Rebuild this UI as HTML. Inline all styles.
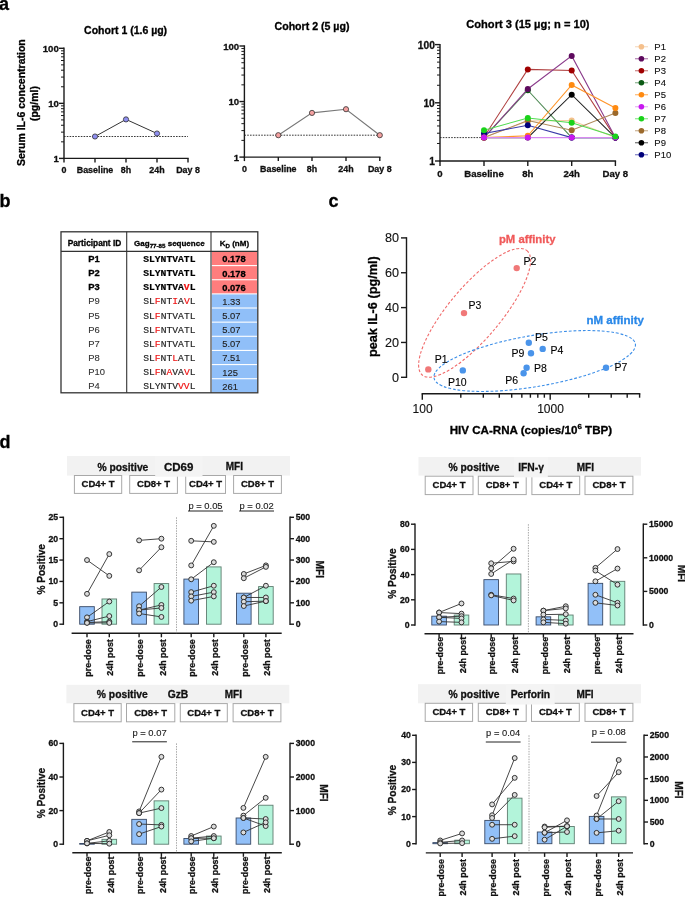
<!DOCTYPE html>
<html><head><meta charset="utf-8"><style>
html,body{margin:0;padding:0;background:#fff;width:685px;height:897px;overflow:hidden}
svg{display:block;will-change:transform}
text{font-family:"Liberation Sans", sans-serif}
</style></head><body>
<svg width="685" height="897" viewBox="0 0 685 897">
<text x="-1.00" y="9.60" font-size="18.00" font-weight="bold" text-anchor="start" fill="#000" stroke="#000" stroke-width="0.30">a</text>
<text x="-0.50" y="207.00" font-size="18.00" font-weight="bold" text-anchor="start" fill="#000" stroke="#000" stroke-width="0.30">b</text>
<text x="328.50" y="207.00" font-size="18.00" font-weight="bold" text-anchor="start" fill="#000" stroke="#000" stroke-width="0.30">c</text>
<text x="-0.50" y="447.50" font-size="18.00" font-weight="bold" text-anchor="start" fill="#000" stroke="#000" stroke-width="0.30">d</text>
<text x="125.60" y="33.81" font-size="10.50" font-weight="bold" text-anchor="middle" fill="#000" stroke="#000" stroke-width="0.30">Cohort 1 (1.6 µg)</text>
<line x1="64.00" y1="47.60" x2="64.00" y2="159.10" stroke="#1a1a1a" stroke-width="1.40"/>
<line x1="59.00" y1="158.40" x2="64.00" y2="158.40" stroke="#1a1a1a" stroke-width="1.40"/>
<text x="58.80" y="162.20" font-size="9.60" font-weight="bold" text-anchor="end" fill="#111" stroke="#111" stroke-width="0.30">1</text>
<line x1="59.00" y1="103.35" x2="64.00" y2="103.35" stroke="#1a1a1a" stroke-width="1.40"/>
<text x="58.80" y="107.15" font-size="9.60" font-weight="bold" text-anchor="end" fill="#111" stroke="#111" stroke-width="0.30">10</text>
<line x1="59.00" y1="48.30" x2="64.00" y2="48.30" stroke="#1a1a1a" stroke-width="1.40"/>
<text x="58.80" y="52.10" font-size="9.60" font-weight="bold" text-anchor="end" fill="#111" stroke="#111" stroke-width="0.30">100</text>
<line x1="61.00" y1="141.83" x2="64.00" y2="141.83" stroke="#1a1a1a" stroke-width="1.00"/>
<line x1="61.00" y1="132.13" x2="64.00" y2="132.13" stroke="#1a1a1a" stroke-width="1.00"/>
<line x1="61.00" y1="125.26" x2="64.00" y2="125.26" stroke="#1a1a1a" stroke-width="1.00"/>
<line x1="61.00" y1="119.92" x2="64.00" y2="119.92" stroke="#1a1a1a" stroke-width="1.00"/>
<line x1="61.00" y1="115.56" x2="64.00" y2="115.56" stroke="#1a1a1a" stroke-width="1.00"/>
<line x1="61.00" y1="111.88" x2="64.00" y2="111.88" stroke="#1a1a1a" stroke-width="1.00"/>
<line x1="61.00" y1="108.68" x2="64.00" y2="108.68" stroke="#1a1a1a" stroke-width="1.00"/>
<line x1="61.00" y1="105.87" x2="64.00" y2="105.87" stroke="#1a1a1a" stroke-width="1.00"/>
<line x1="61.00" y1="86.78" x2="64.00" y2="86.78" stroke="#1a1a1a" stroke-width="1.00"/>
<line x1="61.00" y1="77.08" x2="64.00" y2="77.08" stroke="#1a1a1a" stroke-width="1.00"/>
<line x1="61.00" y1="70.21" x2="64.00" y2="70.21" stroke="#1a1a1a" stroke-width="1.00"/>
<line x1="61.00" y1="64.87" x2="64.00" y2="64.87" stroke="#1a1a1a" stroke-width="1.00"/>
<line x1="61.00" y1="60.51" x2="64.00" y2="60.51" stroke="#1a1a1a" stroke-width="1.00"/>
<line x1="61.00" y1="56.83" x2="64.00" y2="56.83" stroke="#1a1a1a" stroke-width="1.00"/>
<line x1="61.00" y1="53.63" x2="64.00" y2="53.63" stroke="#1a1a1a" stroke-width="1.00"/>
<line x1="61.00" y1="50.82" x2="64.00" y2="50.82" stroke="#1a1a1a" stroke-width="1.00"/>
<line x1="63.30" y1="158.40" x2="188.70" y2="158.40" stroke="#1a1a1a" stroke-width="1.40"/>
<line x1="64.00" y1="158.40" x2="64.00" y2="162.40" stroke="#1a1a1a" stroke-width="1.40"/>
<text x="64.00" y="172.96" font-size="8.90" font-weight="bold" text-anchor="middle" fill="#111" stroke="#111" stroke-width="0.30">0</text>
<line x1="95.00" y1="158.40" x2="95.00" y2="162.40" stroke="#1a1a1a" stroke-width="1.40"/>
<text x="95.00" y="172.96" font-size="8.90" font-weight="bold" text-anchor="middle" fill="#111" stroke="#111" stroke-width="0.30">Baseline</text>
<line x1="126.00" y1="158.40" x2="126.00" y2="162.40" stroke="#1a1a1a" stroke-width="1.40"/>
<text x="126.00" y="172.96" font-size="8.90" font-weight="bold" text-anchor="middle" fill="#111" stroke="#111" stroke-width="0.30">8h</text>
<line x1="157.00" y1="158.40" x2="157.00" y2="162.40" stroke="#1a1a1a" stroke-width="1.40"/>
<text x="157.00" y="172.96" font-size="8.90" font-weight="bold" text-anchor="middle" fill="#111" stroke="#111" stroke-width="0.30">24h</text>
<line x1="188.00" y1="158.40" x2="188.00" y2="162.40" stroke="#1a1a1a" stroke-width="1.40"/>
<text x="188.00" y="172.96" font-size="8.90" font-weight="bold" text-anchor="middle" fill="#111" stroke="#111" stroke-width="0.30">Day 8</text>
<line x1="64.00" y1="136.50" x2="188.00" y2="136.50" stroke="#222" stroke-width="0.90" stroke-dasharray="1.6 1.2"/>
<polyline points="95.0,136.5 126.0,119.4 157.0,133.5" fill="none" stroke="#333" stroke-width="1"/>
<circle cx="95.00" cy="136.50" r="2.60" fill="#8f8ff0" stroke="#333" stroke-width="0.80"/>
<circle cx="126.00" cy="119.40" r="2.60" fill="#8f8ff0" stroke="#333" stroke-width="0.80"/>
<circle cx="157.00" cy="133.50" r="2.60" fill="#8f8ff0" stroke="#333" stroke-width="0.80"/>
<text x="312.00" y="30.35" font-size="10.60" font-weight="bold" text-anchor="middle" fill="#000" stroke="#000" stroke-width="0.30">Cohort 2 (5 µg)</text>
<line x1="244.40" y1="45.30" x2="244.40" y2="157.80" stroke="#1a1a1a" stroke-width="1.40"/>
<line x1="239.40" y1="157.10" x2="244.40" y2="157.10" stroke="#1a1a1a" stroke-width="1.40"/>
<text x="239.20" y="160.90" font-size="9.60" font-weight="bold" text-anchor="end" fill="#111" stroke="#111" stroke-width="0.30">1</text>
<line x1="239.40" y1="101.55" x2="244.40" y2="101.55" stroke="#1a1a1a" stroke-width="1.40"/>
<text x="239.20" y="105.35" font-size="9.60" font-weight="bold" text-anchor="end" fill="#111" stroke="#111" stroke-width="0.30">10</text>
<line x1="239.40" y1="46.00" x2="244.40" y2="46.00" stroke="#1a1a1a" stroke-width="1.40"/>
<text x="239.20" y="49.80" font-size="9.60" font-weight="bold" text-anchor="end" fill="#111" stroke="#111" stroke-width="0.30">100</text>
<line x1="241.40" y1="140.38" x2="244.40" y2="140.38" stroke="#1a1a1a" stroke-width="1.00"/>
<line x1="241.40" y1="130.60" x2="244.40" y2="130.60" stroke="#1a1a1a" stroke-width="1.00"/>
<line x1="241.40" y1="123.66" x2="244.40" y2="123.66" stroke="#1a1a1a" stroke-width="1.00"/>
<line x1="241.40" y1="118.27" x2="244.40" y2="118.27" stroke="#1a1a1a" stroke-width="1.00"/>
<line x1="241.40" y1="113.87" x2="244.40" y2="113.87" stroke="#1a1a1a" stroke-width="1.00"/>
<line x1="241.40" y1="110.15" x2="244.40" y2="110.15" stroke="#1a1a1a" stroke-width="1.00"/>
<line x1="241.40" y1="106.93" x2="244.40" y2="106.93" stroke="#1a1a1a" stroke-width="1.00"/>
<line x1="241.40" y1="104.09" x2="244.40" y2="104.09" stroke="#1a1a1a" stroke-width="1.00"/>
<line x1="241.40" y1="84.83" x2="244.40" y2="84.83" stroke="#1a1a1a" stroke-width="1.00"/>
<line x1="241.40" y1="75.05" x2="244.40" y2="75.05" stroke="#1a1a1a" stroke-width="1.00"/>
<line x1="241.40" y1="68.11" x2="244.40" y2="68.11" stroke="#1a1a1a" stroke-width="1.00"/>
<line x1="241.40" y1="62.72" x2="244.40" y2="62.72" stroke="#1a1a1a" stroke-width="1.00"/>
<line x1="241.40" y1="58.32" x2="244.40" y2="58.32" stroke="#1a1a1a" stroke-width="1.00"/>
<line x1="241.40" y1="54.60" x2="244.40" y2="54.60" stroke="#1a1a1a" stroke-width="1.00"/>
<line x1="241.40" y1="51.38" x2="244.40" y2="51.38" stroke="#1a1a1a" stroke-width="1.00"/>
<line x1="241.40" y1="48.54" x2="244.40" y2="48.54" stroke="#1a1a1a" stroke-width="1.00"/>
<line x1="243.70" y1="157.10" x2="380.50" y2="157.10" stroke="#1a1a1a" stroke-width="1.40"/>
<line x1="244.40" y1="157.10" x2="244.40" y2="161.10" stroke="#1a1a1a" stroke-width="1.40"/>
<text x="244.40" y="171.66" font-size="8.90" font-weight="bold" text-anchor="middle" fill="#111" stroke="#111" stroke-width="0.30">0</text>
<line x1="278.30" y1="157.10" x2="278.30" y2="161.10" stroke="#1a1a1a" stroke-width="1.40"/>
<text x="278.30" y="171.66" font-size="8.90" font-weight="bold" text-anchor="middle" fill="#111" stroke="#111" stroke-width="0.30">Baseline</text>
<line x1="312.00" y1="157.10" x2="312.00" y2="161.10" stroke="#1a1a1a" stroke-width="1.40"/>
<text x="312.00" y="171.66" font-size="8.90" font-weight="bold" text-anchor="middle" fill="#111" stroke="#111" stroke-width="0.30">8h</text>
<line x1="346.00" y1="157.10" x2="346.00" y2="161.10" stroke="#1a1a1a" stroke-width="1.40"/>
<text x="346.00" y="171.66" font-size="8.90" font-weight="bold" text-anchor="middle" fill="#111" stroke="#111" stroke-width="0.30">24h</text>
<line x1="379.80" y1="157.10" x2="379.80" y2="161.10" stroke="#1a1a1a" stroke-width="1.40"/>
<text x="379.80" y="171.66" font-size="8.90" font-weight="bold" text-anchor="middle" fill="#111" stroke="#111" stroke-width="0.30">Day 8</text>
<line x1="244.40" y1="135.20" x2="379.80" y2="135.20" stroke="#222" stroke-width="0.90" stroke-dasharray="1.6 1.2"/>
<polyline points="278.3,135.2 312.0,112.9 346.0,109.2 379.8,135.2" fill="none" stroke="#777" stroke-width="1.1"/>
<circle cx="278.30" cy="135.20" r="2.60" fill="#f4a0a0" stroke="#333" stroke-width="0.80"/>
<circle cx="312.00" cy="112.90" r="2.60" fill="#f4a0a0" stroke="#333" stroke-width="0.80"/>
<circle cx="346.00" cy="109.20" r="2.60" fill="#f4a0a0" stroke="#333" stroke-width="0.80"/>
<circle cx="379.80" cy="135.20" r="2.60" fill="#f4a0a0" stroke="#333" stroke-width="0.80"/>
<text x="527.90" y="27.52" font-size="11.10" font-weight="bold" text-anchor="middle" fill="#000" stroke="#000" stroke-width="0.30">Cohort 3 (15 µg; n = 10)</text>
<line x1="440.00" y1="43.90" x2="440.00" y2="161.70" stroke="#1a1a1a" stroke-width="1.40"/>
<line x1="435.00" y1="161.00" x2="440.00" y2="161.00" stroke="#1a1a1a" stroke-width="1.40"/>
<text x="434.80" y="165.01" font-size="10.20" font-weight="bold" text-anchor="end" fill="#111" stroke="#111" stroke-width="0.30">1</text>
<line x1="435.00" y1="102.80" x2="440.00" y2="102.80" stroke="#1a1a1a" stroke-width="1.40"/>
<text x="434.80" y="106.81" font-size="10.20" font-weight="bold" text-anchor="end" fill="#111" stroke="#111" stroke-width="0.30">10</text>
<line x1="435.00" y1="44.60" x2="440.00" y2="44.60" stroke="#1a1a1a" stroke-width="1.40"/>
<text x="434.80" y="48.61" font-size="10.20" font-weight="bold" text-anchor="end" fill="#111" stroke="#111" stroke-width="0.30">100</text>
<line x1="437.00" y1="143.48" x2="440.00" y2="143.48" stroke="#1a1a1a" stroke-width="1.00"/>
<line x1="437.00" y1="133.23" x2="440.00" y2="133.23" stroke="#1a1a1a" stroke-width="1.00"/>
<line x1="437.00" y1="125.96" x2="440.00" y2="125.96" stroke="#1a1a1a" stroke-width="1.00"/>
<line x1="437.00" y1="120.32" x2="440.00" y2="120.32" stroke="#1a1a1a" stroke-width="1.00"/>
<line x1="437.00" y1="115.71" x2="440.00" y2="115.71" stroke="#1a1a1a" stroke-width="1.00"/>
<line x1="437.00" y1="111.82" x2="440.00" y2="111.82" stroke="#1a1a1a" stroke-width="1.00"/>
<line x1="437.00" y1="108.44" x2="440.00" y2="108.44" stroke="#1a1a1a" stroke-width="1.00"/>
<line x1="437.00" y1="105.46" x2="440.00" y2="105.46" stroke="#1a1a1a" stroke-width="1.00"/>
<line x1="437.00" y1="85.28" x2="440.00" y2="85.28" stroke="#1a1a1a" stroke-width="1.00"/>
<line x1="437.00" y1="75.03" x2="440.00" y2="75.03" stroke="#1a1a1a" stroke-width="1.00"/>
<line x1="437.00" y1="67.76" x2="440.00" y2="67.76" stroke="#1a1a1a" stroke-width="1.00"/>
<line x1="437.00" y1="62.12" x2="440.00" y2="62.12" stroke="#1a1a1a" stroke-width="1.00"/>
<line x1="437.00" y1="57.51" x2="440.00" y2="57.51" stroke="#1a1a1a" stroke-width="1.00"/>
<line x1="437.00" y1="53.62" x2="440.00" y2="53.62" stroke="#1a1a1a" stroke-width="1.00"/>
<line x1="437.00" y1="50.24" x2="440.00" y2="50.24" stroke="#1a1a1a" stroke-width="1.00"/>
<line x1="437.00" y1="47.26" x2="440.00" y2="47.26" stroke="#1a1a1a" stroke-width="1.00"/>
<line x1="439.30" y1="161.00" x2="616.10" y2="161.00" stroke="#1a1a1a" stroke-width="1.40"/>
<line x1="440.00" y1="161.00" x2="440.00" y2="166.00" stroke="#1a1a1a" stroke-width="1.40"/>
<text x="440.00" y="176.50" font-size="9.60" font-weight="bold" text-anchor="middle" fill="#111" stroke="#111" stroke-width="0.30">0</text>
<line x1="484.00" y1="161.00" x2="484.00" y2="166.00" stroke="#1a1a1a" stroke-width="1.40"/>
<text x="484.00" y="176.50" font-size="9.60" font-weight="bold" text-anchor="middle" fill="#111" stroke="#111" stroke-width="0.30">Baseline</text>
<line x1="527.80" y1="161.00" x2="527.80" y2="166.00" stroke="#1a1a1a" stroke-width="1.40"/>
<text x="527.80" y="176.50" font-size="9.60" font-weight="bold" text-anchor="middle" fill="#111" stroke="#111" stroke-width="0.30">8h</text>
<line x1="571.70" y1="161.00" x2="571.70" y2="166.00" stroke="#1a1a1a" stroke-width="1.40"/>
<text x="571.70" y="176.50" font-size="9.60" font-weight="bold" text-anchor="middle" fill="#111" stroke="#111" stroke-width="0.30">24h</text>
<line x1="615.40" y1="161.00" x2="615.40" y2="166.00" stroke="#1a1a1a" stroke-width="1.40"/>
<text x="615.40" y="176.50" font-size="9.60" font-weight="bold" text-anchor="middle" fill="#111" stroke="#111" stroke-width="0.30">Day 8</text>
<line x1="440.00" y1="137.60" x2="484.00" y2="137.60" stroke="#222" stroke-width="0.90" stroke-dasharray="1.6 1.2"/>
<polyline points="484.0,137.6 527.8,121.0 571.7,120.5 615.4,137.6" fill="none" stroke="#f2c9a0" stroke-width="1.05"/>
<circle cx="484.00" cy="137.60" r="3.00" fill="#f5c08c" stroke="none" stroke-width="1.00"/>
<circle cx="527.80" cy="121.00" r="3.00" fill="#f5c08c" stroke="none" stroke-width="1.00"/>
<circle cx="571.70" cy="120.50" r="3.00" fill="#f5c08c" stroke="none" stroke-width="1.00"/>
<circle cx="615.40" cy="137.60" r="3.00" fill="#f5c08c" stroke="none" stroke-width="1.00"/>
<polyline points="484.0,137.0 527.8,69.4 571.7,70.4 615.4,137.6" fill="none" stroke="#b04040" stroke-width="1.05"/>
<circle cx="484.00" cy="137.00" r="3.00" fill="#a00000" stroke="none" stroke-width="1.00"/>
<circle cx="527.80" cy="69.40" r="3.00" fill="#a00000" stroke="none" stroke-width="1.00"/>
<circle cx="571.70" cy="70.40" r="3.00" fill="#a00000" stroke="none" stroke-width="1.00"/>
<circle cx="615.40" cy="137.60" r="3.00" fill="#a00000" stroke="none" stroke-width="1.00"/>
<polyline points="484.0,137.6 527.8,90.2 571.7,137.6 615.4,137.6" fill="none" stroke="#4f8a55" stroke-width="1.05"/>
<circle cx="484.00" cy="137.60" r="3.00" fill="#0b5a14" stroke="none" stroke-width="1.00"/>
<circle cx="527.80" cy="90.20" r="3.00" fill="#0b5a14" stroke="none" stroke-width="1.00"/>
<circle cx="571.70" cy="137.60" r="3.00" fill="#0b5a14" stroke="none" stroke-width="1.00"/>
<circle cx="615.40" cy="137.60" r="3.00" fill="#0b5a14" stroke="none" stroke-width="1.00"/>
<polyline points="484.0,137.6 527.8,89.0 571.7,55.9 615.4,137.6" fill="none" stroke="#8a3a8a" stroke-width="1.05"/>
<circle cx="484.00" cy="137.60" r="3.00" fill="#5e0a5e" stroke="none" stroke-width="1.00"/>
<circle cx="527.80" cy="89.00" r="3.00" fill="#5e0a5e" stroke="none" stroke-width="1.00"/>
<circle cx="571.70" cy="55.90" r="3.00" fill="#5e0a5e" stroke="none" stroke-width="1.00"/>
<circle cx="615.40" cy="137.60" r="3.00" fill="#5e0a5e" stroke="none" stroke-width="1.00"/>
<polyline points="484.0,137.6 527.8,120.6 571.7,130.2 615.4,113.1" fill="none" stroke="#b08a5a" stroke-width="1.05"/>
<circle cx="484.00" cy="137.60" r="3.00" fill="#9c6a2c" stroke="none" stroke-width="1.00"/>
<circle cx="527.80" cy="120.60" r="3.00" fill="#9c6a2c" stroke="none" stroke-width="1.00"/>
<circle cx="571.70" cy="130.20" r="3.00" fill="#9c6a2c" stroke="none" stroke-width="1.00"/>
<circle cx="615.40" cy="113.10" r="3.00" fill="#9c6a2c" stroke="none" stroke-width="1.00"/>
<polyline points="484.0,137.6 527.8,137.6 571.7,94.7 615.4,137.6" fill="none" stroke="#222222" stroke-width="1.05"/>
<circle cx="484.00" cy="137.60" r="3.00" fill="#000000" stroke="none" stroke-width="1.00"/>
<circle cx="527.80" cy="137.60" r="3.00" fill="#000000" stroke="none" stroke-width="1.00"/>
<circle cx="571.70" cy="94.70" r="3.00" fill="#000000" stroke="none" stroke-width="1.00"/>
<circle cx="615.40" cy="137.60" r="3.00" fill="#000000" stroke="none" stroke-width="1.00"/>
<polyline points="484.0,133.4 527.8,125.3 571.7,137.6 615.4,137.6" fill="none" stroke="#3a3aa8" stroke-width="1.05"/>
<circle cx="484.00" cy="133.40" r="3.00" fill="#00007a" stroke="none" stroke-width="1.00"/>
<circle cx="527.80" cy="125.30" r="3.00" fill="#00007a" stroke="none" stroke-width="1.00"/>
<circle cx="571.70" cy="137.60" r="3.00" fill="#00007a" stroke="none" stroke-width="1.00"/>
<circle cx="615.40" cy="137.60" r="3.00" fill="#00007a" stroke="none" stroke-width="1.00"/>
<polyline points="484.0,137.6 527.8,135.8 571.7,85.0 615.4,108.0" fill="none" stroke="#ff9428" stroke-width="1.05"/>
<circle cx="484.00" cy="137.60" r="3.00" fill="#ff8a10" stroke="none" stroke-width="1.00"/>
<circle cx="527.80" cy="135.80" r="3.00" fill="#ff8a10" stroke="none" stroke-width="1.00"/>
<circle cx="571.70" cy="85.00" r="3.00" fill="#ff8a10" stroke="none" stroke-width="1.00"/>
<circle cx="615.40" cy="108.00" r="3.00" fill="#ff8a10" stroke="none" stroke-width="1.00"/>
<polyline points="484.0,137.6 527.8,137.6 571.7,137.6 615.4,137.6" fill="none" stroke="#d88af0" stroke-width="1.05"/>
<circle cx="484.00" cy="137.60" r="3.00" fill="#c818f0" stroke="none" stroke-width="1.00"/>
<circle cx="527.80" cy="137.60" r="3.00" fill="#c818f0" stroke="none" stroke-width="1.00"/>
<circle cx="571.70" cy="137.60" r="3.00" fill="#c818f0" stroke="none" stroke-width="1.00"/>
<circle cx="615.40" cy="137.60" r="3.00" fill="#c818f0" stroke="none" stroke-width="1.00"/>
<polyline points="484.0,130.2 527.8,118.0 571.7,122.8 615.4,136.6" fill="none" stroke="#50dc50" stroke-width="1.05"/>
<circle cx="484.00" cy="130.20" r="3.00" fill="#1ad21a" stroke="none" stroke-width="1.00"/>
<circle cx="527.80" cy="118.00" r="3.00" fill="#1ad21a" stroke="none" stroke-width="1.00"/>
<circle cx="571.70" cy="122.80" r="3.00" fill="#1ad21a" stroke="none" stroke-width="1.00"/>
<circle cx="615.40" cy="136.60" r="3.00" fill="#1ad21a" stroke="none" stroke-width="1.00"/>
<line x1="635.00" y1="46.70" x2="648.00" y2="46.70" stroke="#f2c9a0" stroke-width="1.30" stroke-opacity="0.6"/>
<circle cx="641.40" cy="46.70" r="2.80" fill="#f5c08c" stroke="none" stroke-width="1.00"/>
<text x="654.30" y="49.97" font-size="9.50" font-weight="normal" text-anchor="start" fill="#111" stroke="#111" stroke-width="0.12">P1</text>
<line x1="635.00" y1="58.70" x2="648.00" y2="58.70" stroke="#8a3a8a" stroke-width="1.30" stroke-opacity="0.6"/>
<circle cx="641.40" cy="58.70" r="2.80" fill="#5e0a5e" stroke="none" stroke-width="1.00"/>
<text x="654.30" y="61.97" font-size="9.50" font-weight="normal" text-anchor="start" fill="#111" stroke="#111" stroke-width="0.12">P2</text>
<line x1="635.00" y1="70.70" x2="648.00" y2="70.70" stroke="#b04040" stroke-width="1.30" stroke-opacity="0.6"/>
<circle cx="641.40" cy="70.70" r="2.80" fill="#a00000" stroke="none" stroke-width="1.00"/>
<text x="654.30" y="73.97" font-size="9.50" font-weight="normal" text-anchor="start" fill="#111" stroke="#111" stroke-width="0.12">P3</text>
<line x1="635.00" y1="82.70" x2="648.00" y2="82.70" stroke="#4f8a55" stroke-width="1.30" stroke-opacity="0.6"/>
<circle cx="641.40" cy="82.70" r="2.80" fill="#0b5a14" stroke="none" stroke-width="1.00"/>
<text x="654.30" y="85.97" font-size="9.50" font-weight="normal" text-anchor="start" fill="#111" stroke="#111" stroke-width="0.12">P4</text>
<line x1="635.00" y1="94.70" x2="648.00" y2="94.70" stroke="#ff9428" stroke-width="1.30" stroke-opacity="0.6"/>
<circle cx="641.40" cy="94.70" r="2.80" fill="#ff8a10" stroke="none" stroke-width="1.00"/>
<text x="654.30" y="97.97" font-size="9.50" font-weight="normal" text-anchor="start" fill="#111" stroke="#111" stroke-width="0.12">P5</text>
<line x1="635.00" y1="106.70" x2="648.00" y2="106.70" stroke="#d88af0" stroke-width="1.30" stroke-opacity="0.6"/>
<circle cx="641.40" cy="106.70" r="2.80" fill="#c818f0" stroke="none" stroke-width="1.00"/>
<text x="654.30" y="109.97" font-size="9.50" font-weight="normal" text-anchor="start" fill="#111" stroke="#111" stroke-width="0.12">P6</text>
<line x1="635.00" y1="118.70" x2="648.00" y2="118.70" stroke="#50dc50" stroke-width="1.30" stroke-opacity="0.6"/>
<circle cx="641.40" cy="118.70" r="2.80" fill="#1ad21a" stroke="none" stroke-width="1.00"/>
<text x="654.30" y="121.97" font-size="9.50" font-weight="normal" text-anchor="start" fill="#111" stroke="#111" stroke-width="0.12">P7</text>
<line x1="635.00" y1="130.70" x2="648.00" y2="130.70" stroke="#b08a5a" stroke-width="1.30" stroke-opacity="0.6"/>
<circle cx="641.40" cy="130.70" r="2.80" fill="#9c6a2c" stroke="none" stroke-width="1.00"/>
<text x="654.30" y="133.97" font-size="9.50" font-weight="normal" text-anchor="start" fill="#111" stroke="#111" stroke-width="0.12">P8</text>
<line x1="635.00" y1="142.70" x2="648.00" y2="142.70" stroke="#222222" stroke-width="1.30" stroke-opacity="0.6"/>
<circle cx="641.40" cy="142.70" r="2.80" fill="#000000" stroke="none" stroke-width="1.00"/>
<text x="654.30" y="145.97" font-size="9.50" font-weight="normal" text-anchor="start" fill="#111" stroke="#111" stroke-width="0.12">P9</text>
<line x1="635.00" y1="154.70" x2="648.00" y2="154.70" stroke="#3a3aa8" stroke-width="1.30" stroke-opacity="0.6"/>
<circle cx="641.40" cy="154.70" r="2.80" fill="#00007a" stroke="none" stroke-width="1.00"/>
<text x="654.30" y="157.97" font-size="9.50" font-weight="normal" text-anchor="start" fill="#111" stroke="#111" stroke-width="0.12">P10</text>
<text x="21.50" y="102.60" font-size="10.50" font-weight="bold" text-anchor="middle" fill="#000" stroke="#000" stroke-width="0.30" transform="rotate(-90 21.50 102.60)" dominant-baseline="central">Serum IL-6 concentration</text>
<text x="34.00" y="103.60" font-size="10.50" font-weight="bold" text-anchor="middle" fill="#000" stroke="#000" stroke-width="0.30" transform="rotate(-90 34.00 103.60)" dominant-baseline="central">(pg/ml)</text>
<rect x="211.80" y="252.00" width="45.20" height="13.04" fill="#ff7d7d" stroke="none" stroke-width="1.00"/>
<text x="88.30" y="262.00" font-size="9.40" font-weight="bold" text-anchor="start" fill="#000" stroke="#000" stroke-width="0.30">P1</text>
<text x="169.35" y="262.04" font-size="9.7" font-weight="bold" text-anchor="middle" fill="#000" stroke="#000" stroke-width="0.2" style='font-family:"Liberation Mono", monospace'><tspan>SLYNTVATL</tspan></text>
<text x="222.30" y="262.40" font-size="9.40" font-weight="bold" text-anchor="start" fill="#000" stroke="#000" stroke-width="0.30">0.178</text>
<rect x="211.80" y="266.14" width="45.20" height="13.04" fill="#ff7d7d" stroke="none" stroke-width="1.00"/>
<text x="88.30" y="276.14" font-size="9.40" font-weight="bold" text-anchor="start" fill="#000" stroke="#000" stroke-width="0.30">P2</text>
<text x="169.35" y="276.18" font-size="9.7" font-weight="bold" text-anchor="middle" fill="#000" stroke="#000" stroke-width="0.2" style='font-family:"Liberation Mono", monospace'><tspan>SLYNTVATL</tspan></text>
<text x="222.30" y="276.54" font-size="9.40" font-weight="bold" text-anchor="start" fill="#000" stroke="#000" stroke-width="0.30">0.178</text>
<rect x="211.80" y="280.28" width="45.20" height="13.04" fill="#ff7d7d" stroke="none" stroke-width="1.00"/>
<text x="88.30" y="290.28" font-size="9.40" font-weight="bold" text-anchor="start" fill="#000" stroke="#000" stroke-width="0.30">P3</text>
<text x="169.35" y="290.32" font-size="9.7" font-weight="bold" text-anchor="middle" fill="#000" stroke="#000" stroke-width="0.2" style='font-family:"Liberation Mono", monospace'><tspan>SLYNTVA</tspan><tspan fill="#ee1111" stroke="#ee1111">V</tspan><tspan>L</tspan></text>
<text x="222.30" y="290.68" font-size="9.40" font-weight="bold" text-anchor="start" fill="#000" stroke="#000" stroke-width="0.30">0.076</text>
<rect x="211.80" y="294.42" width="45.20" height="13.04" fill="#90bff8" stroke="none" stroke-width="1.00"/>
<text x="88.30" y="304.42" font-size="9.40" font-weight="normal" text-anchor="start" fill="#333" stroke="#333" stroke-width="0.12">P9</text>
<text x="169.35" y="304.46" font-size="9.7" font-weight="normal" text-anchor="middle" fill="#222" stroke="#222" stroke-width="0.15" style='font-family:"Liberation Mono", monospace'><tspan>SL</tspan><tspan fill="#ee1111" stroke="#ee1111">F</tspan><tspan>NT</tspan><tspan fill="#ee1111" stroke="#ee1111">I</tspan><tspan>A</tspan><tspan fill="#ee1111" stroke="#ee1111">V</tspan><tspan>L</tspan></text>
<text x="222.30" y="304.82" font-size="9.40" font-weight="normal" text-anchor="start" fill="#222" stroke="#222" stroke-width="0.12">1.33</text>
<rect x="211.80" y="308.56" width="45.20" height="13.04" fill="#90bff8" stroke="none" stroke-width="1.00"/>
<text x="88.30" y="318.56" font-size="9.40" font-weight="normal" text-anchor="start" fill="#333" stroke="#333" stroke-width="0.12">P5</text>
<text x="169.35" y="318.60" font-size="9.7" font-weight="normal" text-anchor="middle" fill="#222" stroke="#222" stroke-width="0.15" style='font-family:"Liberation Mono", monospace'><tspan>SL</tspan><tspan fill="#ee1111" stroke="#ee1111">F</tspan><tspan>NTVATL</tspan></text>
<text x="222.30" y="318.96" font-size="9.40" font-weight="normal" text-anchor="start" fill="#222" stroke="#222" stroke-width="0.12">5.07</text>
<rect x="211.80" y="322.70" width="45.20" height="13.04" fill="#90bff8" stroke="none" stroke-width="1.00"/>
<text x="88.30" y="332.70" font-size="9.40" font-weight="normal" text-anchor="start" fill="#333" stroke="#333" stroke-width="0.12">P6</text>
<text x="169.35" y="332.74" font-size="9.7" font-weight="normal" text-anchor="middle" fill="#222" stroke="#222" stroke-width="0.15" style='font-family:"Liberation Mono", monospace'><tspan>SL</tspan><tspan fill="#ee1111" stroke="#ee1111">F</tspan><tspan>NTVATL</tspan></text>
<text x="222.30" y="333.10" font-size="9.40" font-weight="normal" text-anchor="start" fill="#222" stroke="#222" stroke-width="0.12">5.07</text>
<rect x="211.80" y="336.84" width="45.20" height="13.04" fill="#90bff8" stroke="none" stroke-width="1.00"/>
<text x="88.30" y="346.84" font-size="9.40" font-weight="normal" text-anchor="start" fill="#333" stroke="#333" stroke-width="0.12">P7</text>
<text x="169.35" y="346.88" font-size="9.7" font-weight="normal" text-anchor="middle" fill="#222" stroke="#222" stroke-width="0.15" style='font-family:"Liberation Mono", monospace'><tspan>SL</tspan><tspan fill="#ee1111" stroke="#ee1111">F</tspan><tspan>NTVATL</tspan></text>
<text x="222.30" y="347.24" font-size="9.40" font-weight="normal" text-anchor="start" fill="#222" stroke="#222" stroke-width="0.12">5.07</text>
<rect x="211.80" y="350.98" width="45.20" height="13.04" fill="#90bff8" stroke="none" stroke-width="1.00"/>
<text x="88.30" y="360.98" font-size="9.40" font-weight="normal" text-anchor="start" fill="#333" stroke="#333" stroke-width="0.12">P8</text>
<text x="169.35" y="361.02" font-size="9.7" font-weight="normal" text-anchor="middle" fill="#222" stroke="#222" stroke-width="0.15" style='font-family:"Liberation Mono", monospace'><tspan>SL</tspan><tspan fill="#ee1111" stroke="#ee1111">F</tspan><tspan>NT</tspan><tspan fill="#ee1111" stroke="#ee1111">L</tspan><tspan>ATL</tspan></text>
<text x="222.30" y="361.38" font-size="9.40" font-weight="normal" text-anchor="start" fill="#222" stroke="#222" stroke-width="0.12">7.51</text>
<rect x="211.80" y="365.12" width="45.20" height="13.04" fill="#90bff8" stroke="none" stroke-width="1.00"/>
<text x="88.30" y="375.12" font-size="9.40" font-weight="normal" text-anchor="start" fill="#333" stroke="#333" stroke-width="0.12">P10</text>
<text x="169.35" y="375.16" font-size="9.7" font-weight="normal" text-anchor="middle" fill="#222" stroke="#222" stroke-width="0.15" style='font-family:"Liberation Mono", monospace'><tspan>SL</tspan><tspan fill="#ee1111" stroke="#ee1111">F</tspan><tspan>N</tspan><tspan fill="#ee1111" stroke="#ee1111">A</tspan><tspan>VA</tspan><tspan fill="#ee1111" stroke="#ee1111">V</tspan><tspan>L</tspan></text>
<text x="222.30" y="375.52" font-size="9.40" font-weight="normal" text-anchor="start" fill="#222" stroke="#222" stroke-width="0.12">125</text>
<rect x="211.80" y="379.26" width="45.20" height="13.04" fill="#90bff8" stroke="none" stroke-width="1.00"/>
<text x="88.30" y="389.26" font-size="9.40" font-weight="normal" text-anchor="start" fill="#333" stroke="#333" stroke-width="0.12">P4</text>
<text x="169.35" y="389.30" font-size="9.7" font-weight="normal" text-anchor="middle" fill="#222" stroke="#222" stroke-width="0.15" style='font-family:"Liberation Mono", monospace'><tspan>SLYNTV</tspan><tspan fill="#ee1111" stroke="#ee1111">VV</tspan><tspan>L</tspan></text>
<text x="222.30" y="389.66" font-size="9.40" font-weight="normal" text-anchor="start" fill="#222" stroke="#222" stroke-width="0.12">261</text>
<rect x="61.00" y="231.80" width="196.80" height="161.00" fill="none" stroke="#333" stroke-width="1.3"/>
<line x1="61.00" y1="251.40" x2="257.80" y2="251.40" stroke="#333" stroke-width="1.30"/>
<line x1="126.70" y1="231.80" x2="126.70" y2="392.80" stroke="#333" stroke-width="1.10"/>
<line x1="211.00" y1="231.80" x2="211.00" y2="392.80" stroke="#333" stroke-width="1.10"/>
<text x="94.45" y="245.66" font-size="8.30" font-weight="bold" text-anchor="middle" fill="#000" stroke="#000" stroke-width="0.30">Participant ID</text>
<text x="169.35" y="245.55" font-size="8" font-weight="bold" text-anchor="middle" stroke="#000" stroke-width="0.3">Gag<tspan font-size="6.2" dy="2">77-85</tspan><tspan dy="-2"> sequence</tspan></text>
<text x="234.40" y="245.55" font-size="8" font-weight="bold" text-anchor="middle" stroke="#000" stroke-width="0.3">K<tspan font-size="6.2" dy="2">D</tspan><tspan dy="-2"> (nM)</tspan></text>
<line x1="406.50" y1="237.20" x2="406.50" y2="378.00" stroke="#1a1a1a" stroke-width="1.40"/>
<line x1="401.00" y1="377.30" x2="406.50" y2="377.30" stroke="#1a1a1a" stroke-width="1.40"/>
<text x="399.00" y="381.63" font-size="12.60" font-weight="normal" text-anchor="end" fill="#111" stroke="#111" stroke-width="0.12">0</text>
<line x1="401.00" y1="342.45" x2="406.50" y2="342.45" stroke="#1a1a1a" stroke-width="1.40"/>
<text x="399.00" y="346.78" font-size="12.60" font-weight="normal" text-anchor="end" fill="#111" stroke="#111" stroke-width="0.12">20</text>
<line x1="401.00" y1="307.60" x2="406.50" y2="307.60" stroke="#1a1a1a" stroke-width="1.40"/>
<text x="399.00" y="311.93" font-size="12.60" font-weight="normal" text-anchor="end" fill="#111" stroke="#111" stroke-width="0.12">40</text>
<line x1="401.00" y1="272.75" x2="406.50" y2="272.75" stroke="#1a1a1a" stroke-width="1.40"/>
<text x="399.00" y="277.08" font-size="12.60" font-weight="normal" text-anchor="end" fill="#111" stroke="#111" stroke-width="0.12">60</text>
<line x1="401.00" y1="237.90" x2="406.50" y2="237.90" stroke="#1a1a1a" stroke-width="1.40"/>
<text x="399.00" y="242.23" font-size="12.60" font-weight="normal" text-anchor="end" fill="#111" stroke="#111" stroke-width="0.12">80</text>
<text x="373.40" y="306.70" font-size="12.70" font-weight="bold" text-anchor="middle" fill="#000" stroke="#000" stroke-width="0.30" transform="rotate(-90 373.40 306.70)" dominant-baseline="central">peak IL-6 (pg/ml)</text>
<line x1="421.60" y1="393.70" x2="640.30" y2="393.70" stroke="#1a1a1a" stroke-width="1.40"/>
<line x1="422.30" y1="393.70" x2="422.30" y2="399.70" stroke="#1a1a1a" stroke-width="1.40"/>
<text x="422.60" y="412.93" font-size="12.00" font-weight="normal" text-anchor="middle" fill="#111" stroke="#111" stroke-width="0.12">100</text>
<line x1="550.20" y1="393.70" x2="550.20" y2="399.70" stroke="#1a1a1a" stroke-width="1.40"/>
<text x="550.50" y="412.93" font-size="12.00" font-weight="normal" text-anchor="middle" fill="#111" stroke="#111" stroke-width="0.12">1000</text>
<line x1="460.80" y1="393.70" x2="460.80" y2="397.70" stroke="#1a1a1a" stroke-width="1.40"/>
<line x1="483.32" y1="393.70" x2="483.32" y2="397.70" stroke="#1a1a1a" stroke-width="1.40"/>
<line x1="499.30" y1="393.70" x2="499.30" y2="397.70" stroke="#1a1a1a" stroke-width="1.40"/>
<line x1="511.70" y1="393.70" x2="511.70" y2="397.70" stroke="#1a1a1a" stroke-width="1.40"/>
<line x1="521.83" y1="393.70" x2="521.83" y2="397.70" stroke="#1a1a1a" stroke-width="1.40"/>
<line x1="530.39" y1="393.70" x2="530.39" y2="397.70" stroke="#1a1a1a" stroke-width="1.40"/>
<line x1="537.81" y1="393.70" x2="537.81" y2="397.70" stroke="#1a1a1a" stroke-width="1.40"/>
<line x1="544.35" y1="393.70" x2="544.35" y2="397.70" stroke="#1a1a1a" stroke-width="1.40"/>
<line x1="588.70" y1="393.70" x2="588.70" y2="397.70" stroke="#1a1a1a" stroke-width="1.40"/>
<line x1="611.22" y1="393.70" x2="611.22" y2="397.70" stroke="#1a1a1a" stroke-width="1.40"/>
<line x1="627.20" y1="393.70" x2="627.20" y2="397.70" stroke="#1a1a1a" stroke-width="1.40"/>
<line x1="639.60" y1="393.70" x2="639.60" y2="397.70" stroke="#1a1a1a" stroke-width="1.40"/>
<text x="530.90" y="433.99" font-size="11.60" font-weight="bold" text-anchor="middle" fill="#000" stroke="#000" stroke-width="0.30">HIV CA-RNA (copies/10<tspan font-size="8" dy="-4.5">6</tspan><tspan dy="4.5"> TBP)</tspan></text>
<ellipse cx="474.6" cy="312.8" rx="81.3" ry="25.9" transform="rotate(-49.9 474.6 312.8)" fill="none" stroke="#f06a6a" stroke-width="1.1" stroke-dasharray="2.8 1.9"/>
<ellipse cx="534.7" cy="361" rx="102.1" ry="25.6" transform="rotate(-9.6 534.7 361)" fill="none" stroke="#3d8fe8" stroke-width="1.1" stroke-dasharray="2.8 1.9"/>
<circle cx="428.30" cy="369.40" r="3.20" fill="#f07878" stroke="none" stroke-width="1.00"/>
<circle cx="464.00" cy="313.10" r="3.20" fill="#f07878" stroke="none" stroke-width="1.00"/>
<circle cx="516.70" cy="268.10" r="3.20" fill="#f07878" stroke="none" stroke-width="1.00"/>
<circle cx="462.80" cy="370.40" r="3.20" fill="#4a94ea" stroke="none" stroke-width="1.00"/>
<circle cx="528.80" cy="342.70" r="3.20" fill="#4a94ea" stroke="none" stroke-width="1.00"/>
<circle cx="542.70" cy="348.90" r="3.20" fill="#4a94ea" stroke="none" stroke-width="1.00"/>
<circle cx="531.00" cy="353.30" r="3.20" fill="#4a94ea" stroke="none" stroke-width="1.00"/>
<circle cx="526.60" cy="367.70" r="3.20" fill="#4a94ea" stroke="none" stroke-width="1.00"/>
<circle cx="523.60" cy="373.20" r="3.20" fill="#4a94ea" stroke="none" stroke-width="1.00"/>
<circle cx="606.00" cy="367.70" r="3.20" fill="#4a94ea" stroke="none" stroke-width="1.00"/>
<text x="434.70" y="363.11" font-size="10.50" font-weight="normal" text-anchor="start" fill="#000" stroke="#000" stroke-width="0.12">P1</text>
<text x="447.90" y="386.21" font-size="10.50" font-weight="normal" text-anchor="start" fill="#000" stroke="#000" stroke-width="0.12">P10</text>
<text x="468.50" y="309.01" font-size="10.50" font-weight="normal" text-anchor="start" fill="#000" stroke="#000" stroke-width="0.12">P3</text>
<text x="523.40" y="265.21" font-size="10.50" font-weight="normal" text-anchor="start" fill="#000" stroke="#000" stroke-width="0.12">P2</text>
<text x="535.00" y="340.81" font-size="10.50" font-weight="normal" text-anchor="start" fill="#000" stroke="#000" stroke-width="0.12">P5</text>
<text x="550.60" y="353.71" font-size="10.50" font-weight="normal" text-anchor="start" fill="#000" stroke="#000" stroke-width="0.12">P4</text>
<text x="524.30" y="357.41" font-size="10.50" font-weight="normal" text-anchor="end" fill="#000" stroke="#000" stroke-width="0.12">P9</text>
<text x="534.00" y="372.31" font-size="10.50" font-weight="normal" text-anchor="start" fill="#000" stroke="#000" stroke-width="0.12">P8</text>
<text x="518.20" y="383.51" font-size="10.50" font-weight="normal" text-anchor="end" fill="#000" stroke="#000" stroke-width="0.12">P6</text>
<text x="614.40" y="371.11" font-size="10.50" font-weight="normal" text-anchor="start" fill="#000" stroke="#000" stroke-width="0.12">P7</text>
<text x="527.20" y="243.19" font-size="11.30" font-weight="bold" text-anchor="middle" fill="#f05a5a" stroke="#f05a5a" stroke-width="0.30">pM affinity</text>
<text x="615.20" y="323.76" font-size="11.50" font-weight="bold" text-anchor="middle" fill="#2a88e8" stroke="#2a88e8" stroke-width="0.30">nM affinity</text>
<rect x="67.00" y="456.00" width="223.00" height="19.60" fill="#f2f2f2" stroke="none" stroke-width="1.00"/>
<rect x="74.40" y="475.50" width="47.30" height="17.90" fill="#fff" stroke="#a8a8a8" stroke-width="1.00"/>
<text x="98.05" y="487.32" font-size="9.50" font-weight="bold" text-anchor="middle" fill="#111" stroke="#111" stroke-width="0.30">CD4+ T</text>
<rect x="129.70" y="475.50" width="47.70" height="17.90" fill="#fff" stroke="#a8a8a8" stroke-width="1.00"/>
<text x="153.55" y="487.32" font-size="9.50" font-weight="bold" text-anchor="middle" fill="#111" stroke="#111" stroke-width="0.30">CD8+ T</text>
<rect x="185.70" y="475.50" width="39.80" height="17.90" fill="#fff" stroke="#a8a8a8" stroke-width="1.00"/>
<text x="205.60" y="487.32" font-size="9.50" font-weight="bold" text-anchor="middle" fill="#111" stroke="#111" stroke-width="0.30">CD4+ T</text>
<rect x="233.60" y="475.50" width="47.80" height="17.90" fill="#fff" stroke="#a8a8a8" stroke-width="1.00"/>
<text x="257.50" y="487.32" font-size="9.50" font-weight="bold" text-anchor="middle" fill="#111" stroke="#111" stroke-width="0.30">CD8+ T</text>
<rect x="155.20" y="456.00" width="47.30" height="20.70" fill="#f4f4f4" stroke="none" stroke-width="1.00"/>
<text x="122.90" y="470.74" font-size="10.30" font-weight="bold" text-anchor="middle" fill="#111" stroke="#111" stroke-width="0.30">% positive</text>
<text x="178.60" y="471.16" font-size="11.50" font-weight="bold" text-anchor="middle" fill="#111" stroke="#111" stroke-width="0.30">CD69</text>
<text x="234.30" y="470.04" font-size="10.00" font-weight="bold" text-anchor="middle" fill="#111" stroke="#111" stroke-width="0.30">MFI</text>
<line x1="63.40" y1="516.60" x2="63.40" y2="624.90" stroke="#1a1a1a" stroke-width="1.40"/>
<line x1="59.40" y1="624.20" x2="63.40" y2="624.20" stroke="#1a1a1a" stroke-width="1.40"/>
<text x="58.10" y="627.19" font-size="8.70" font-weight="bold" text-anchor="end" fill="#111" stroke="#111" stroke-width="0.30">0</text>
<line x1="59.40" y1="602.82" x2="63.40" y2="602.82" stroke="#1a1a1a" stroke-width="1.40"/>
<text x="58.10" y="605.81" font-size="8.70" font-weight="bold" text-anchor="end" fill="#111" stroke="#111" stroke-width="0.30">5</text>
<line x1="59.40" y1="581.44" x2="63.40" y2="581.44" stroke="#1a1a1a" stroke-width="1.40"/>
<text x="58.10" y="584.43" font-size="8.70" font-weight="bold" text-anchor="end" fill="#111" stroke="#111" stroke-width="0.30">10</text>
<line x1="59.40" y1="560.06" x2="63.40" y2="560.06" stroke="#1a1a1a" stroke-width="1.40"/>
<text x="58.10" y="563.05" font-size="8.70" font-weight="bold" text-anchor="end" fill="#111" stroke="#111" stroke-width="0.30">15</text>
<line x1="59.40" y1="538.68" x2="63.40" y2="538.68" stroke="#1a1a1a" stroke-width="1.40"/>
<text x="58.10" y="541.67" font-size="8.70" font-weight="bold" text-anchor="end" fill="#111" stroke="#111" stroke-width="0.30">20</text>
<line x1="59.40" y1="517.30" x2="63.40" y2="517.30" stroke="#1a1a1a" stroke-width="1.40"/>
<text x="58.10" y="520.29" font-size="8.70" font-weight="bold" text-anchor="end" fill="#111" stroke="#111" stroke-width="0.30">25</text>
<line x1="290.00" y1="516.60" x2="290.00" y2="624.90" stroke="#1a1a1a" stroke-width="1.40"/>
<line x1="290.00" y1="624.20" x2="294.00" y2="624.20" stroke="#1a1a1a" stroke-width="1.40"/>
<text x="295.70" y="627.19" font-size="8.70" font-weight="bold" text-anchor="start" fill="#111" stroke="#111" stroke-width="0.30">0</text>
<line x1="290.00" y1="602.82" x2="294.00" y2="602.82" stroke="#1a1a1a" stroke-width="1.40"/>
<text x="295.70" y="605.81" font-size="8.70" font-weight="bold" text-anchor="start" fill="#111" stroke="#111" stroke-width="0.30">100</text>
<line x1="290.00" y1="581.44" x2="294.00" y2="581.44" stroke="#1a1a1a" stroke-width="1.40"/>
<text x="295.70" y="584.43" font-size="8.70" font-weight="bold" text-anchor="start" fill="#111" stroke="#111" stroke-width="0.30">200</text>
<line x1="290.00" y1="560.06" x2="294.00" y2="560.06" stroke="#1a1a1a" stroke-width="1.40"/>
<text x="295.70" y="563.05" font-size="8.70" font-weight="bold" text-anchor="start" fill="#111" stroke="#111" stroke-width="0.30">300</text>
<line x1="290.00" y1="538.68" x2="294.00" y2="538.68" stroke="#1a1a1a" stroke-width="1.40"/>
<text x="295.70" y="541.67" font-size="8.70" font-weight="bold" text-anchor="start" fill="#111" stroke="#111" stroke-width="0.30">400</text>
<line x1="290.00" y1="517.30" x2="294.00" y2="517.30" stroke="#1a1a1a" stroke-width="1.40"/>
<text x="295.70" y="520.29" font-size="8.70" font-weight="bold" text-anchor="start" fill="#111" stroke="#111" stroke-width="0.30">500</text>
<line x1="71.60" y1="633.30" x2="281.70" y2="633.30" stroke="#1a1a1a" stroke-width="1.40"/>
<line x1="176.50" y1="517.30" x2="176.50" y2="633.30" stroke="#8c8c8c" stroke-width="0.75" stroke-dasharray="1.5 1.1"/>
<line x1="87.00" y1="633.30" x2="87.00" y2="637.30" stroke="#1a1a1a" stroke-width="1.40"/>
<text x="91.20" y="639.20" font-size="8.90" font-weight="bold" text-anchor="end" fill="#111" stroke="#111" stroke-width="0.30" transform="rotate(-90 91.20 639.20)">pre-dose</text>
<line x1="109.30" y1="633.30" x2="109.30" y2="637.30" stroke="#1a1a1a" stroke-width="1.40"/>
<text x="113.50" y="639.20" font-size="8.90" font-weight="bold" text-anchor="end" fill="#111" stroke="#111" stroke-width="0.30" transform="rotate(-90 113.50 639.20)">24h post</text>
<line x1="139.10" y1="633.30" x2="139.10" y2="637.30" stroke="#1a1a1a" stroke-width="1.40"/>
<text x="143.30" y="639.20" font-size="8.90" font-weight="bold" text-anchor="end" fill="#111" stroke="#111" stroke-width="0.30" transform="rotate(-90 143.30 639.20)">pre-dose</text>
<line x1="161.40" y1="633.30" x2="161.40" y2="637.30" stroke="#1a1a1a" stroke-width="1.40"/>
<text x="165.60" y="639.20" font-size="8.90" font-weight="bold" text-anchor="end" fill="#111" stroke="#111" stroke-width="0.30" transform="rotate(-90 165.60 639.20)">24h post</text>
<line x1="191.20" y1="633.30" x2="191.20" y2="637.30" stroke="#1a1a1a" stroke-width="1.40"/>
<text x="195.40" y="639.20" font-size="8.90" font-weight="bold" text-anchor="end" fill="#111" stroke="#111" stroke-width="0.30" transform="rotate(-90 195.40 639.20)">pre-dose</text>
<line x1="213.80" y1="633.30" x2="213.80" y2="637.30" stroke="#1a1a1a" stroke-width="1.40"/>
<text x="218.00" y="639.20" font-size="8.90" font-weight="bold" text-anchor="end" fill="#111" stroke="#111" stroke-width="0.30" transform="rotate(-90 218.00 639.20)">24h post</text>
<line x1="243.80" y1="633.30" x2="243.80" y2="637.30" stroke="#1a1a1a" stroke-width="1.40"/>
<text x="248.00" y="639.20" font-size="8.90" font-weight="bold" text-anchor="end" fill="#111" stroke="#111" stroke-width="0.30" transform="rotate(-90 248.00 639.20)">pre-dose</text>
<line x1="265.90" y1="633.30" x2="265.90" y2="637.30" stroke="#1a1a1a" stroke-width="1.40"/>
<text x="270.10" y="639.20" font-size="8.90" font-weight="bold" text-anchor="end" fill="#111" stroke="#111" stroke-width="0.30" transform="rotate(-90 270.10 639.20)">24h post</text>
<rect x="79.70" y="606.67" width="14.60" height="17.53" fill="#92c0f8" stroke="#3a4a66" stroke-width="0.90"/>
<rect x="102.00" y="598.97" width="14.60" height="25.23" fill="#b3f4da" stroke="#5f7d70" stroke-width="0.90"/>
<line x1="87.00" y1="560.06" x2="109.30" y2="575.88" stroke="#333" stroke-width="0.90"/>
<line x1="87.00" y1="593.84" x2="109.30" y2="554.07" stroke="#333" stroke-width="0.90"/>
<line x1="87.00" y1="617.36" x2="109.30" y2="601.54" stroke="#333" stroke-width="0.90"/>
<line x1="87.00" y1="621.63" x2="109.30" y2="616.08" stroke="#333" stroke-width="0.90"/>
<line x1="87.00" y1="622.49" x2="109.30" y2="621.63" stroke="#333" stroke-width="0.90"/>
<line x1="87.00" y1="622.92" x2="109.30" y2="622.92" stroke="#333" stroke-width="0.90"/>
<circle cx="87.00" cy="560.06" r="2.45" fill="#dcdcdc" stroke="#2a2a2a" stroke-width="0.95"/>
<circle cx="87.00" cy="593.84" r="2.45" fill="#dcdcdc" stroke="#2a2a2a" stroke-width="0.95"/>
<circle cx="87.00" cy="617.36" r="2.45" fill="#dcdcdc" stroke="#2a2a2a" stroke-width="0.95"/>
<circle cx="87.00" cy="621.63" r="2.45" fill="#dcdcdc" stroke="#2a2a2a" stroke-width="0.95"/>
<circle cx="87.00" cy="622.49" r="2.45" fill="#dcdcdc" stroke="#2a2a2a" stroke-width="0.95"/>
<circle cx="87.00" cy="622.92" r="2.45" fill="#dcdcdc" stroke="#2a2a2a" stroke-width="0.95"/>
<circle cx="109.30" cy="575.88" r="2.45" fill="#dcdcdc" stroke="#2a2a2a" stroke-width="0.95"/>
<circle cx="109.30" cy="554.07" r="2.45" fill="#dcdcdc" stroke="#2a2a2a" stroke-width="0.95"/>
<circle cx="109.30" cy="601.54" r="2.45" fill="#dcdcdc" stroke="#2a2a2a" stroke-width="0.95"/>
<circle cx="109.30" cy="616.08" r="2.45" fill="#dcdcdc" stroke="#2a2a2a" stroke-width="0.95"/>
<circle cx="109.30" cy="621.63" r="2.45" fill="#dcdcdc" stroke="#2a2a2a" stroke-width="0.95"/>
<circle cx="109.30" cy="622.92" r="2.45" fill="#dcdcdc" stroke="#2a2a2a" stroke-width="0.95"/>
<rect x="131.80" y="592.13" width="14.60" height="32.07" fill="#92c0f8" stroke="#3a4a66" stroke-width="0.90"/>
<rect x="154.10" y="583.58" width="14.60" height="40.62" fill="#b3f4da" stroke="#5f7d70" stroke-width="0.90"/>
<line x1="139.10" y1="540.39" x2="161.40" y2="538.68" stroke="#333" stroke-width="0.90"/>
<line x1="139.10" y1="570.32" x2="161.40" y2="547.23" stroke="#333" stroke-width="0.90"/>
<line x1="139.10" y1="606.24" x2="161.40" y2="587.00" stroke="#333" stroke-width="0.90"/>
<line x1="139.10" y1="610.09" x2="161.40" y2="604.96" stroke="#333" stroke-width="0.90"/>
<line x1="139.10" y1="610.09" x2="161.40" y2="607.95" stroke="#333" stroke-width="0.90"/>
<line x1="139.10" y1="613.51" x2="161.40" y2="616.93" stroke="#333" stroke-width="0.90"/>
<circle cx="139.10" cy="540.39" r="2.45" fill="#dcdcdc" stroke="#2a2a2a" stroke-width="0.95"/>
<circle cx="139.10" cy="570.32" r="2.45" fill="#dcdcdc" stroke="#2a2a2a" stroke-width="0.95"/>
<circle cx="139.10" cy="606.24" r="2.45" fill="#dcdcdc" stroke="#2a2a2a" stroke-width="0.95"/>
<circle cx="139.10" cy="610.09" r="2.45" fill="#dcdcdc" stroke="#2a2a2a" stroke-width="0.95"/>
<circle cx="139.10" cy="610.09" r="2.45" fill="#dcdcdc" stroke="#2a2a2a" stroke-width="0.95"/>
<circle cx="139.10" cy="613.51" r="2.45" fill="#dcdcdc" stroke="#2a2a2a" stroke-width="0.95"/>
<circle cx="161.40" cy="538.68" r="2.45" fill="#dcdcdc" stroke="#2a2a2a" stroke-width="0.95"/>
<circle cx="161.40" cy="547.23" r="2.45" fill="#dcdcdc" stroke="#2a2a2a" stroke-width="0.95"/>
<circle cx="161.40" cy="587.00" r="2.45" fill="#dcdcdc" stroke="#2a2a2a" stroke-width="0.95"/>
<circle cx="161.40" cy="604.96" r="2.45" fill="#dcdcdc" stroke="#2a2a2a" stroke-width="0.95"/>
<circle cx="161.40" cy="607.95" r="2.45" fill="#dcdcdc" stroke="#2a2a2a" stroke-width="0.95"/>
<circle cx="161.40" cy="616.93" r="2.45" fill="#dcdcdc" stroke="#2a2a2a" stroke-width="0.95"/>
<rect x="183.90" y="579.09" width="14.60" height="45.11" fill="#92c0f8" stroke="#3a4a66" stroke-width="0.90"/>
<rect x="206.50" y="566.90" width="14.60" height="57.30" fill="#b3f4da" stroke="#5f7d70" stroke-width="0.90"/>
<line x1="191.20" y1="540.82" x2="213.80" y2="541.89" stroke="#333" stroke-width="0.90"/>
<line x1="191.20" y1="565.40" x2="213.80" y2="525.85" stroke="#333" stroke-width="0.90"/>
<line x1="191.20" y1="579.30" x2="213.80" y2="562.20" stroke="#333" stroke-width="0.90"/>
<line x1="191.20" y1="592.13" x2="213.80" y2="585.72" stroke="#333" stroke-width="0.90"/>
<line x1="191.20" y1="596.41" x2="213.80" y2="592.13" stroke="#333" stroke-width="0.90"/>
<line x1="191.20" y1="600.68" x2="213.80" y2="596.41" stroke="#333" stroke-width="0.90"/>
<circle cx="191.20" cy="540.82" r="2.45" fill="#dcdcdc" stroke="#2a2a2a" stroke-width="0.95"/>
<circle cx="191.20" cy="565.40" r="2.45" fill="#dcdcdc" stroke="#2a2a2a" stroke-width="0.95"/>
<circle cx="191.20" cy="579.30" r="2.45" fill="#dcdcdc" stroke="#2a2a2a" stroke-width="0.95"/>
<circle cx="191.20" cy="592.13" r="2.45" fill="#dcdcdc" stroke="#2a2a2a" stroke-width="0.95"/>
<circle cx="191.20" cy="596.41" r="2.45" fill="#dcdcdc" stroke="#2a2a2a" stroke-width="0.95"/>
<circle cx="191.20" cy="600.68" r="2.45" fill="#dcdcdc" stroke="#2a2a2a" stroke-width="0.95"/>
<circle cx="213.80" cy="541.89" r="2.45" fill="#dcdcdc" stroke="#2a2a2a" stroke-width="0.95"/>
<circle cx="213.80" cy="525.85" r="2.45" fill="#dcdcdc" stroke="#2a2a2a" stroke-width="0.95"/>
<circle cx="213.80" cy="562.20" r="2.45" fill="#dcdcdc" stroke="#2a2a2a" stroke-width="0.95"/>
<circle cx="213.80" cy="585.72" r="2.45" fill="#dcdcdc" stroke="#2a2a2a" stroke-width="0.95"/>
<circle cx="213.80" cy="592.13" r="2.45" fill="#dcdcdc" stroke="#2a2a2a" stroke-width="0.95"/>
<circle cx="213.80" cy="596.41" r="2.45" fill="#dcdcdc" stroke="#2a2a2a" stroke-width="0.95"/>
<rect x="236.50" y="593.20" width="14.60" height="31.00" fill="#92c0f8" stroke="#3a4a66" stroke-width="0.90"/>
<rect x="258.60" y="586.57" width="14.60" height="37.63" fill="#b3f4da" stroke="#5f7d70" stroke-width="0.90"/>
<line x1="243.80" y1="573.96" x2="265.90" y2="565.40" stroke="#333" stroke-width="0.90"/>
<line x1="243.80" y1="578.23" x2="265.90" y2="566.90" stroke="#333" stroke-width="0.90"/>
<line x1="243.80" y1="597.48" x2="265.90" y2="585.72" stroke="#333" stroke-width="0.90"/>
<line x1="243.80" y1="597.48" x2="265.90" y2="597.48" stroke="#333" stroke-width="0.90"/>
<line x1="243.80" y1="601.75" x2="265.90" y2="601.11" stroke="#333" stroke-width="0.90"/>
<line x1="243.80" y1="606.03" x2="265.90" y2="601.11" stroke="#333" stroke-width="0.90"/>
<circle cx="243.80" cy="573.96" r="2.45" fill="#dcdcdc" stroke="#2a2a2a" stroke-width="0.95"/>
<circle cx="243.80" cy="578.23" r="2.45" fill="#dcdcdc" stroke="#2a2a2a" stroke-width="0.95"/>
<circle cx="243.80" cy="597.48" r="2.45" fill="#dcdcdc" stroke="#2a2a2a" stroke-width="0.95"/>
<circle cx="243.80" cy="597.48" r="2.45" fill="#dcdcdc" stroke="#2a2a2a" stroke-width="0.95"/>
<circle cx="243.80" cy="601.75" r="2.45" fill="#dcdcdc" stroke="#2a2a2a" stroke-width="0.95"/>
<circle cx="243.80" cy="606.03" r="2.45" fill="#dcdcdc" stroke="#2a2a2a" stroke-width="0.95"/>
<circle cx="265.90" cy="565.40" r="2.45" fill="#dcdcdc" stroke="#2a2a2a" stroke-width="0.95"/>
<circle cx="265.90" cy="566.90" r="2.45" fill="#dcdcdc" stroke="#2a2a2a" stroke-width="0.95"/>
<circle cx="265.90" cy="585.72" r="2.45" fill="#dcdcdc" stroke="#2a2a2a" stroke-width="0.95"/>
<circle cx="265.90" cy="597.48" r="2.45" fill="#dcdcdc" stroke="#2a2a2a" stroke-width="0.95"/>
<circle cx="265.90" cy="601.11" r="2.45" fill="#dcdcdc" stroke="#2a2a2a" stroke-width="0.95"/>
<circle cx="265.90" cy="601.11" r="2.45" fill="#dcdcdc" stroke="#2a2a2a" stroke-width="0.95"/>
<text x="205.50" y="508.53" font-size="9.40" font-weight="normal" text-anchor="middle" fill="#1a1a1a" stroke="#1a1a1a" stroke-width="0.12">p = 0.05</text>
<line x1="188.00" y1="511.00" x2="223.00" y2="511.00" stroke="#222" stroke-width="1.00"/>
<text x="256.60" y="508.53" font-size="9.40" font-weight="normal" text-anchor="middle" fill="#1a1a1a" stroke="#1a1a1a" stroke-width="0.12">p = 0.02</text>
<line x1="239.20" y1="511.00" x2="274.00" y2="511.00" stroke="#222" stroke-width="1.00"/>
<text x="41.80" y="569.30" font-size="10.10" font-weight="bold" text-anchor="middle" fill="#111" stroke="#111" stroke-width="0.30" transform="rotate(-90 41.80 569.30)" dominant-baseline="central">% Positive</text>
<text x="319.20" y="569.30" font-size="10.10" font-weight="bold" text-anchor="middle" fill="#111" stroke="#111" stroke-width="0.30" transform="rotate(90 319.20 569.30)" dominant-baseline="central">MFI</text>
<rect x="418.50" y="457.00" width="222.50" height="18.60" fill="#f2f2f2" stroke="none" stroke-width="1.00"/>
<rect x="425.20" y="476.20" width="47.80" height="18.40" fill="#fff" stroke="#a8a8a8" stroke-width="1.00"/>
<text x="449.10" y="488.27" font-size="9.50" font-weight="bold" text-anchor="middle" fill="#111" stroke="#111" stroke-width="0.30">CD4+ T</text>
<rect x="478.30" y="476.20" width="47.90" height="18.40" fill="#fff" stroke="#a8a8a8" stroke-width="1.00"/>
<text x="502.25" y="488.27" font-size="9.50" font-weight="bold" text-anchor="middle" fill="#111" stroke="#111" stroke-width="0.30">CD8+ T</text>
<rect x="531.90" y="476.20" width="47.80" height="18.40" fill="#fff" stroke="#a8a8a8" stroke-width="1.00"/>
<text x="555.80" y="488.27" font-size="9.50" font-weight="bold" text-anchor="middle" fill="#111" stroke="#111" stroke-width="0.30">CD4+ T</text>
<rect x="585.00" y="476.20" width="47.90" height="18.40" fill="#fff" stroke="#a8a8a8" stroke-width="1.00"/>
<text x="608.95" y="488.27" font-size="9.50" font-weight="bold" text-anchor="middle" fill="#111" stroke="#111" stroke-width="0.30">CD8+ T</text>
<rect x="514.00" y="457.00" width="33.80" height="20.40" fill="#f4f4f4" stroke="none" stroke-width="1.00"/>
<text x="474.00" y="471.04" font-size="10.30" font-weight="bold" text-anchor="middle" fill="#111" stroke="#111" stroke-width="0.30">% positive</text>
<text x="531.00" y="471.04" font-size="10.30" font-weight="bold" text-anchor="middle" fill="#111" stroke="#111" stroke-width="0.30">IFN-γ</text>
<text x="585.30" y="470.94" font-size="10.00" font-weight="bold" text-anchor="middle" fill="#111" stroke="#111" stroke-width="0.30">MFI</text>
<line x1="415.00" y1="523.50" x2="415.00" y2="625.70" stroke="#1a1a1a" stroke-width="1.40"/>
<line x1="411.00" y1="625.00" x2="415.00" y2="625.00" stroke="#1a1a1a" stroke-width="1.40"/>
<text x="409.70" y="627.99" font-size="8.70" font-weight="bold" text-anchor="end" fill="#111" stroke="#111" stroke-width="0.30">0</text>
<line x1="411.00" y1="599.80" x2="415.00" y2="599.80" stroke="#1a1a1a" stroke-width="1.40"/>
<text x="409.70" y="602.79" font-size="8.70" font-weight="bold" text-anchor="end" fill="#111" stroke="#111" stroke-width="0.30">20</text>
<line x1="411.00" y1="574.60" x2="415.00" y2="574.60" stroke="#1a1a1a" stroke-width="1.40"/>
<text x="409.70" y="577.59" font-size="8.70" font-weight="bold" text-anchor="end" fill="#111" stroke="#111" stroke-width="0.30">40</text>
<line x1="411.00" y1="549.40" x2="415.00" y2="549.40" stroke="#1a1a1a" stroke-width="1.40"/>
<text x="409.70" y="552.39" font-size="8.70" font-weight="bold" text-anchor="end" fill="#111" stroke="#111" stroke-width="0.30">60</text>
<line x1="411.00" y1="524.20" x2="415.00" y2="524.20" stroke="#1a1a1a" stroke-width="1.40"/>
<text x="409.70" y="527.19" font-size="8.70" font-weight="bold" text-anchor="end" fill="#111" stroke="#111" stroke-width="0.30">80</text>
<line x1="643.30" y1="523.50" x2="643.30" y2="625.70" stroke="#1a1a1a" stroke-width="1.40"/>
<line x1="643.30" y1="625.00" x2="647.30" y2="625.00" stroke="#1a1a1a" stroke-width="1.40"/>
<text x="649.00" y="627.99" font-size="8.70" font-weight="bold" text-anchor="start" fill="#111" stroke="#111" stroke-width="0.30">0</text>
<line x1="643.30" y1="591.40" x2="647.30" y2="591.40" stroke="#1a1a1a" stroke-width="1.40"/>
<text x="649.00" y="594.39" font-size="8.70" font-weight="bold" text-anchor="start" fill="#111" stroke="#111" stroke-width="0.30">5000</text>
<line x1="643.30" y1="557.80" x2="647.30" y2="557.80" stroke="#1a1a1a" stroke-width="1.40"/>
<text x="649.00" y="560.79" font-size="8.70" font-weight="bold" text-anchor="start" fill="#111" stroke="#111" stroke-width="0.30">10000</text>
<line x1="643.30" y1="524.20" x2="647.30" y2="524.20" stroke="#1a1a1a" stroke-width="1.40"/>
<text x="649.00" y="527.19" font-size="8.70" font-weight="bold" text-anchor="start" fill="#111" stroke="#111" stroke-width="0.30">15000</text>
<line x1="424.50" y1="633.70" x2="633.50" y2="633.70" stroke="#1a1a1a" stroke-width="1.40"/>
<line x1="528.40" y1="524.20" x2="528.40" y2="633.70" stroke="#8c8c8c" stroke-width="0.75" stroke-dasharray="1.5 1.1"/>
<line x1="439.10" y1="633.70" x2="439.10" y2="637.70" stroke="#1a1a1a" stroke-width="1.40"/>
<text x="443.30" y="636.80" font-size="8.90" font-weight="bold" text-anchor="end" fill="#111" stroke="#111" stroke-width="0.30" transform="rotate(-90 443.30 636.80)">pre-dose</text>
<line x1="461.50" y1="633.70" x2="461.50" y2="637.70" stroke="#1a1a1a" stroke-width="1.40"/>
<text x="465.70" y="636.80" font-size="8.90" font-weight="bold" text-anchor="end" fill="#111" stroke="#111" stroke-width="0.30" transform="rotate(-90 465.70 636.80)">24h post</text>
<line x1="491.20" y1="633.70" x2="491.20" y2="637.70" stroke="#1a1a1a" stroke-width="1.40"/>
<text x="495.40" y="636.80" font-size="8.90" font-weight="bold" text-anchor="end" fill="#111" stroke="#111" stroke-width="0.30" transform="rotate(-90 495.40 636.80)">pre-dose</text>
<line x1="513.60" y1="633.70" x2="513.60" y2="637.70" stroke="#1a1a1a" stroke-width="1.40"/>
<text x="517.80" y="636.80" font-size="8.90" font-weight="bold" text-anchor="end" fill="#111" stroke="#111" stroke-width="0.30" transform="rotate(-90 517.80 636.80)">24h post</text>
<line x1="543.40" y1="633.70" x2="543.40" y2="637.70" stroke="#1a1a1a" stroke-width="1.40"/>
<text x="547.60" y="636.80" font-size="8.90" font-weight="bold" text-anchor="end" fill="#111" stroke="#111" stroke-width="0.30" transform="rotate(-90 547.60 636.80)">pre-dose</text>
<line x1="565.80" y1="633.70" x2="565.80" y2="637.70" stroke="#1a1a1a" stroke-width="1.40"/>
<text x="570.00" y="636.80" font-size="8.90" font-weight="bold" text-anchor="end" fill="#111" stroke="#111" stroke-width="0.30" transform="rotate(-90 570.00 636.80)">24h post</text>
<line x1="595.40" y1="633.70" x2="595.40" y2="637.70" stroke="#1a1a1a" stroke-width="1.40"/>
<text x="599.60" y="636.80" font-size="8.90" font-weight="bold" text-anchor="end" fill="#111" stroke="#111" stroke-width="0.30" transform="rotate(-90 599.60 636.80)">pre-dose</text>
<line x1="617.50" y1="633.70" x2="617.50" y2="637.70" stroke="#1a1a1a" stroke-width="1.40"/>
<text x="621.70" y="636.80" font-size="8.90" font-weight="bold" text-anchor="end" fill="#111" stroke="#111" stroke-width="0.30" transform="rotate(-90 621.70 636.80)">24h post</text>
<rect x="431.80" y="616.18" width="14.60" height="8.82" fill="#92c0f8" stroke="#3a4a66" stroke-width="0.90"/>
<rect x="454.20" y="615.05" width="14.60" height="9.95" fill="#b3f4da" stroke="#5f7d70" stroke-width="0.90"/>
<line x1="439.10" y1="612.53" x2="461.50" y2="603.45" stroke="#333" stroke-width="0.90"/>
<line x1="439.10" y1="612.53" x2="461.50" y2="613.66" stroke="#333" stroke-width="0.90"/>
<line x1="439.10" y1="617.31" x2="461.50" y2="616.18" stroke="#333" stroke-width="0.90"/>
<line x1="439.10" y1="617.31" x2="461.50" y2="618.45" stroke="#333" stroke-width="0.90"/>
<line x1="439.10" y1="621.60" x2="461.50" y2="622.35" stroke="#333" stroke-width="0.90"/>
<circle cx="439.10" cy="612.53" r="2.45" fill="#dcdcdc" stroke="#2a2a2a" stroke-width="0.95"/>
<circle cx="439.10" cy="612.53" r="2.45" fill="#dcdcdc" stroke="#2a2a2a" stroke-width="0.95"/>
<circle cx="439.10" cy="617.31" r="2.45" fill="#dcdcdc" stroke="#2a2a2a" stroke-width="0.95"/>
<circle cx="439.10" cy="617.31" r="2.45" fill="#dcdcdc" stroke="#2a2a2a" stroke-width="0.95"/>
<circle cx="439.10" cy="621.60" r="2.45" fill="#dcdcdc" stroke="#2a2a2a" stroke-width="0.95"/>
<circle cx="461.50" cy="603.45" r="2.45" fill="#dcdcdc" stroke="#2a2a2a" stroke-width="0.95"/>
<circle cx="461.50" cy="613.66" r="2.45" fill="#dcdcdc" stroke="#2a2a2a" stroke-width="0.95"/>
<circle cx="461.50" cy="616.18" r="2.45" fill="#dcdcdc" stroke="#2a2a2a" stroke-width="0.95"/>
<circle cx="461.50" cy="618.45" r="2.45" fill="#dcdcdc" stroke="#2a2a2a" stroke-width="0.95"/>
<circle cx="461.50" cy="622.35" r="2.45" fill="#dcdcdc" stroke="#2a2a2a" stroke-width="0.95"/>
<rect x="483.90" y="579.64" width="14.60" height="45.36" fill="#92c0f8" stroke="#3a4a66" stroke-width="0.90"/>
<rect x="506.30" y="573.97" width="14.60" height="51.03" fill="#b3f4da" stroke="#5f7d70" stroke-width="0.90"/>
<line x1="491.20" y1="563.26" x2="513.60" y2="561.37" stroke="#333" stroke-width="0.90"/>
<line x1="491.20" y1="568.30" x2="513.60" y2="548.77" stroke="#333" stroke-width="0.90"/>
<line x1="491.20" y1="573.97" x2="513.60" y2="559.48" stroke="#333" stroke-width="0.90"/>
<line x1="491.20" y1="594.76" x2="513.60" y2="598.54" stroke="#333" stroke-width="0.90"/>
<line x1="491.20" y1="595.39" x2="513.60" y2="600.43" stroke="#333" stroke-width="0.90"/>
<circle cx="491.20" cy="563.26" r="2.45" fill="#dcdcdc" stroke="#2a2a2a" stroke-width="0.95"/>
<circle cx="491.20" cy="568.30" r="2.45" fill="#dcdcdc" stroke="#2a2a2a" stroke-width="0.95"/>
<circle cx="491.20" cy="573.97" r="2.45" fill="#dcdcdc" stroke="#2a2a2a" stroke-width="0.95"/>
<circle cx="491.20" cy="594.76" r="2.45" fill="#dcdcdc" stroke="#2a2a2a" stroke-width="0.95"/>
<circle cx="491.20" cy="595.39" r="2.45" fill="#dcdcdc" stroke="#2a2a2a" stroke-width="0.95"/>
<circle cx="513.60" cy="561.37" r="2.45" fill="#dcdcdc" stroke="#2a2a2a" stroke-width="0.95"/>
<circle cx="513.60" cy="548.77" r="2.45" fill="#dcdcdc" stroke="#2a2a2a" stroke-width="0.95"/>
<circle cx="513.60" cy="559.48" r="2.45" fill="#dcdcdc" stroke="#2a2a2a" stroke-width="0.95"/>
<circle cx="513.60" cy="598.54" r="2.45" fill="#dcdcdc" stroke="#2a2a2a" stroke-width="0.95"/>
<circle cx="513.60" cy="600.43" r="2.45" fill="#dcdcdc" stroke="#2a2a2a" stroke-width="0.95"/>
<rect x="536.10" y="616.82" width="14.60" height="8.18" fill="#92c0f8" stroke="#3a4a66" stroke-width="0.90"/>
<rect x="558.50" y="615.03" width="14.60" height="9.97" fill="#b3f4da" stroke="#5f7d70" stroke-width="0.90"/>
<line x1="543.40" y1="610.65" x2="565.80" y2="606.26" stroke="#333" stroke-width="0.90"/>
<line x1="543.40" y1="610.65" x2="565.80" y2="608.45" stroke="#333" stroke-width="0.90"/>
<line x1="543.40" y1="614.63" x2="565.80" y2="614.23" stroke="#333" stroke-width="0.90"/>
<line x1="543.40" y1="619.42" x2="565.80" y2="620.42" stroke="#333" stroke-width="0.90"/>
<line x1="543.40" y1="622.31" x2="565.80" y2="623.70" stroke="#333" stroke-width="0.90"/>
<circle cx="543.40" cy="610.65" r="2.45" fill="#dcdcdc" stroke="#2a2a2a" stroke-width="0.95"/>
<circle cx="543.40" cy="610.65" r="2.45" fill="#dcdcdc" stroke="#2a2a2a" stroke-width="0.95"/>
<circle cx="543.40" cy="614.63" r="2.45" fill="#dcdcdc" stroke="#2a2a2a" stroke-width="0.95"/>
<circle cx="543.40" cy="619.42" r="2.45" fill="#dcdcdc" stroke="#2a2a2a" stroke-width="0.95"/>
<circle cx="543.40" cy="622.31" r="2.45" fill="#dcdcdc" stroke="#2a2a2a" stroke-width="0.95"/>
<circle cx="565.80" cy="606.26" r="2.45" fill="#dcdcdc" stroke="#2a2a2a" stroke-width="0.95"/>
<circle cx="565.80" cy="608.45" r="2.45" fill="#dcdcdc" stroke="#2a2a2a" stroke-width="0.95"/>
<circle cx="565.80" cy="614.23" r="2.45" fill="#dcdcdc" stroke="#2a2a2a" stroke-width="0.95"/>
<circle cx="565.80" cy="620.42" r="2.45" fill="#dcdcdc" stroke="#2a2a2a" stroke-width="0.95"/>
<circle cx="565.80" cy="623.70" r="2.45" fill="#dcdcdc" stroke="#2a2a2a" stroke-width="0.95"/>
<rect x="588.10" y="583.34" width="14.60" height="41.66" fill="#92c0f8" stroke="#3a4a66" stroke-width="0.90"/>
<rect x="610.20" y="581.32" width="14.60" height="43.68" fill="#b3f4da" stroke="#5f7d70" stroke-width="0.90"/>
<line x1="595.40" y1="567.88" x2="617.50" y2="549.06" stroke="#333" stroke-width="0.90"/>
<line x1="595.40" y1="570.57" x2="617.50" y2="584.68" stroke="#333" stroke-width="0.90"/>
<line x1="595.40" y1="581.32" x2="617.50" y2="568.55" stroke="#333" stroke-width="0.90"/>
<line x1="595.40" y1="594.76" x2="617.50" y2="602.82" stroke="#333" stroke-width="0.90"/>
<line x1="595.40" y1="602.82" x2="617.50" y2="605.51" stroke="#333" stroke-width="0.90"/>
<circle cx="595.40" cy="567.88" r="2.45" fill="#dcdcdc" stroke="#2a2a2a" stroke-width="0.95"/>
<circle cx="595.40" cy="570.57" r="2.45" fill="#dcdcdc" stroke="#2a2a2a" stroke-width="0.95"/>
<circle cx="595.40" cy="581.32" r="2.45" fill="#dcdcdc" stroke="#2a2a2a" stroke-width="0.95"/>
<circle cx="595.40" cy="594.76" r="2.45" fill="#dcdcdc" stroke="#2a2a2a" stroke-width="0.95"/>
<circle cx="595.40" cy="602.82" r="2.45" fill="#dcdcdc" stroke="#2a2a2a" stroke-width="0.95"/>
<circle cx="617.50" cy="549.06" r="2.45" fill="#dcdcdc" stroke="#2a2a2a" stroke-width="0.95"/>
<circle cx="617.50" cy="584.68" r="2.45" fill="#dcdcdc" stroke="#2a2a2a" stroke-width="0.95"/>
<circle cx="617.50" cy="568.55" r="2.45" fill="#dcdcdc" stroke="#2a2a2a" stroke-width="0.95"/>
<circle cx="617.50" cy="602.82" r="2.45" fill="#dcdcdc" stroke="#2a2a2a" stroke-width="0.95"/>
<circle cx="617.50" cy="605.51" r="2.45" fill="#dcdcdc" stroke="#2a2a2a" stroke-width="0.95"/>
<text x="392.70" y="573.50" font-size="10.10" font-weight="bold" text-anchor="middle" fill="#111" stroke="#111" stroke-width="0.30" transform="rotate(-90 392.70 573.50)" dominant-baseline="central">% Positive</text>
<text x="681.50" y="573.50" font-size="10.10" font-weight="bold" text-anchor="middle" fill="#111" stroke="#111" stroke-width="0.30" transform="rotate(90 681.50 573.50)" dominant-baseline="central">MFI</text>
<rect x="66.40" y="684.80" width="222.90" height="18.50" fill="#f2f2f2" stroke="none" stroke-width="1.00"/>
<rect x="73.90" y="703.60" width="47.30" height="18.20" fill="#fff" stroke="#a8a8a8" stroke-width="1.00"/>
<text x="97.55" y="715.57" font-size="9.50" font-weight="bold" text-anchor="middle" fill="#111" stroke="#111" stroke-width="0.30">CD4+ T</text>
<rect x="126.50" y="703.60" width="48.30" height="18.20" fill="#fff" stroke="#a8a8a8" stroke-width="1.00"/>
<text x="150.65" y="715.57" font-size="9.50" font-weight="bold" text-anchor="middle" fill="#111" stroke="#111" stroke-width="0.30">CD8+ T</text>
<rect x="180.30" y="703.60" width="47.00" height="18.20" fill="#fff" stroke="#a8a8a8" stroke-width="1.00"/>
<text x="203.80" y="715.57" font-size="9.50" font-weight="bold" text-anchor="middle" fill="#111" stroke="#111" stroke-width="0.30">CD4+ T</text>
<rect x="233.10" y="703.60" width="47.80" height="18.20" fill="#fff" stroke="#a8a8a8" stroke-width="1.00"/>
<text x="257.00" y="715.57" font-size="9.50" font-weight="bold" text-anchor="middle" fill="#111" stroke="#111" stroke-width="0.30">CD8+ T</text>
<text x="122.30" y="698.44" font-size="10.30" font-weight="bold" text-anchor="middle" fill="#111" stroke="#111" stroke-width="0.30">% positive</text>
<text x="178.00" y="697.84" font-size="10.30" font-weight="bold" text-anchor="middle" fill="#111" stroke="#111" stroke-width="0.30">GzB</text>
<text x="233.30" y="697.74" font-size="10.00" font-weight="bold" text-anchor="middle" fill="#111" stroke="#111" stroke-width="0.30">MFI</text>
<line x1="63.40" y1="742.70" x2="63.40" y2="844.90" stroke="#1a1a1a" stroke-width="1.40"/>
<line x1="59.40" y1="844.20" x2="63.40" y2="844.20" stroke="#1a1a1a" stroke-width="1.40"/>
<text x="58.10" y="847.19" font-size="8.70" font-weight="bold" text-anchor="end" fill="#111" stroke="#111" stroke-width="0.30">0</text>
<line x1="59.40" y1="810.60" x2="63.40" y2="810.60" stroke="#1a1a1a" stroke-width="1.40"/>
<text x="58.10" y="813.59" font-size="8.70" font-weight="bold" text-anchor="end" fill="#111" stroke="#111" stroke-width="0.30">20</text>
<line x1="59.40" y1="777.00" x2="63.40" y2="777.00" stroke="#1a1a1a" stroke-width="1.40"/>
<text x="58.10" y="779.99" font-size="8.70" font-weight="bold" text-anchor="end" fill="#111" stroke="#111" stroke-width="0.30">40</text>
<line x1="59.40" y1="743.40" x2="63.40" y2="743.40" stroke="#1a1a1a" stroke-width="1.40"/>
<text x="58.10" y="746.39" font-size="8.70" font-weight="bold" text-anchor="end" fill="#111" stroke="#111" stroke-width="0.30">60</text>
<line x1="290.00" y1="742.70" x2="290.00" y2="844.90" stroke="#1a1a1a" stroke-width="1.40"/>
<line x1="290.00" y1="844.20" x2="294.00" y2="844.20" stroke="#1a1a1a" stroke-width="1.40"/>
<text x="295.70" y="847.19" font-size="8.70" font-weight="bold" text-anchor="start" fill="#111" stroke="#111" stroke-width="0.30">0</text>
<line x1="290.00" y1="810.60" x2="294.00" y2="810.60" stroke="#1a1a1a" stroke-width="1.40"/>
<text x="295.70" y="813.59" font-size="8.70" font-weight="bold" text-anchor="start" fill="#111" stroke="#111" stroke-width="0.30">1000</text>
<line x1="290.00" y1="777.00" x2="294.00" y2="777.00" stroke="#1a1a1a" stroke-width="1.40"/>
<text x="295.70" y="779.99" font-size="8.70" font-weight="bold" text-anchor="start" fill="#111" stroke="#111" stroke-width="0.30">2000</text>
<line x1="290.00" y1="743.40" x2="294.00" y2="743.40" stroke="#1a1a1a" stroke-width="1.40"/>
<text x="295.70" y="746.39" font-size="8.70" font-weight="bold" text-anchor="start" fill="#111" stroke="#111" stroke-width="0.30">3000</text>
<line x1="72.30" y1="852.80" x2="281.80" y2="852.80" stroke="#1a1a1a" stroke-width="1.40"/>
<line x1="176.50" y1="743.40" x2="176.50" y2="852.80" stroke="#8c8c8c" stroke-width="0.75" stroke-dasharray="1.5 1.1"/>
<line x1="87.00" y1="852.80" x2="87.00" y2="856.80" stroke="#1a1a1a" stroke-width="1.40"/>
<text x="91.20" y="856.50" font-size="8.90" font-weight="bold" text-anchor="end" fill="#111" stroke="#111" stroke-width="0.30" transform="rotate(-90 91.20 856.50)">pre-dose</text>
<line x1="109.30" y1="852.80" x2="109.30" y2="856.80" stroke="#1a1a1a" stroke-width="1.40"/>
<text x="113.50" y="856.50" font-size="8.90" font-weight="bold" text-anchor="end" fill="#111" stroke="#111" stroke-width="0.30" transform="rotate(-90 113.50 856.50)">24h post</text>
<line x1="139.10" y1="852.80" x2="139.10" y2="856.80" stroke="#1a1a1a" stroke-width="1.40"/>
<text x="143.30" y="856.50" font-size="8.90" font-weight="bold" text-anchor="end" fill="#111" stroke="#111" stroke-width="0.30" transform="rotate(-90 143.30 856.50)">pre-dose</text>
<line x1="161.40" y1="852.80" x2="161.40" y2="856.80" stroke="#1a1a1a" stroke-width="1.40"/>
<text x="165.60" y="856.50" font-size="8.90" font-weight="bold" text-anchor="end" fill="#111" stroke="#111" stroke-width="0.30" transform="rotate(-90 165.60 856.50)">24h post</text>
<line x1="191.20" y1="852.80" x2="191.20" y2="856.80" stroke="#1a1a1a" stroke-width="1.40"/>
<text x="195.40" y="856.50" font-size="8.90" font-weight="bold" text-anchor="end" fill="#111" stroke="#111" stroke-width="0.30" transform="rotate(-90 195.40 856.50)">pre-dose</text>
<line x1="213.80" y1="852.80" x2="213.80" y2="856.80" stroke="#1a1a1a" stroke-width="1.40"/>
<text x="218.00" y="856.50" font-size="8.90" font-weight="bold" text-anchor="end" fill="#111" stroke="#111" stroke-width="0.30" transform="rotate(-90 218.00 856.50)">24h post</text>
<line x1="243.40" y1="852.80" x2="243.40" y2="856.80" stroke="#1a1a1a" stroke-width="1.40"/>
<text x="247.60" y="856.50" font-size="8.90" font-weight="bold" text-anchor="end" fill="#111" stroke="#111" stroke-width="0.30" transform="rotate(-90 247.60 856.50)">pre-dose</text>
<line x1="265.70" y1="852.80" x2="265.70" y2="856.80" stroke="#1a1a1a" stroke-width="1.40"/>
<text x="269.90" y="856.50" font-size="8.90" font-weight="bold" text-anchor="end" fill="#111" stroke="#111" stroke-width="0.30" transform="rotate(-90 269.90 856.50)">24h post</text>
<rect x="79.70" y="843.53" width="14.60" height="0.67" fill="#92c0f8" stroke="#3a4a66" stroke-width="0.90"/>
<rect x="102.00" y="839.33" width="14.60" height="4.87" fill="#b3f4da" stroke="#5f7d70" stroke-width="0.90"/>
<line x1="87.00" y1="840.84" x2="109.30" y2="831.94" stroke="#333" stroke-width="0.90"/>
<line x1="87.00" y1="840.84" x2="109.30" y2="835.30" stroke="#333" stroke-width="0.90"/>
<line x1="87.00" y1="843.36" x2="109.30" y2="840.84" stroke="#333" stroke-width="0.90"/>
<line x1="87.00" y1="843.36" x2="109.30" y2="843.70" stroke="#333" stroke-width="0.90"/>
<circle cx="87.00" cy="840.84" r="2.45" fill="#dcdcdc" stroke="#2a2a2a" stroke-width="0.95"/>
<circle cx="87.00" cy="840.84" r="2.45" fill="#dcdcdc" stroke="#2a2a2a" stroke-width="0.95"/>
<circle cx="87.00" cy="843.36" r="2.45" fill="#dcdcdc" stroke="#2a2a2a" stroke-width="0.95"/>
<circle cx="87.00" cy="843.36" r="2.45" fill="#dcdcdc" stroke="#2a2a2a" stroke-width="0.95"/>
<circle cx="109.30" cy="831.94" r="2.45" fill="#dcdcdc" stroke="#2a2a2a" stroke-width="0.95"/>
<circle cx="109.30" cy="835.30" r="2.45" fill="#dcdcdc" stroke="#2a2a2a" stroke-width="0.95"/>
<circle cx="109.30" cy="840.84" r="2.45" fill="#dcdcdc" stroke="#2a2a2a" stroke-width="0.95"/>
<circle cx="109.30" cy="843.70" r="2.45" fill="#dcdcdc" stroke="#2a2a2a" stroke-width="0.95"/>
<rect x="131.80" y="819.34" width="14.60" height="24.86" fill="#92c0f8" stroke="#3a4a66" stroke-width="0.90"/>
<rect x="154.10" y="800.86" width="14.60" height="43.34" fill="#b3f4da" stroke="#5f7d70" stroke-width="0.90"/>
<line x1="139.10" y1="811.44" x2="161.40" y2="756.84" stroke="#333" stroke-width="0.90"/>
<line x1="139.10" y1="813.12" x2="161.40" y2="789.60" stroke="#333" stroke-width="0.90"/>
<line x1="139.10" y1="813.12" x2="161.40" y2="808.08" stroke="#333" stroke-width="0.90"/>
<line x1="139.10" y1="824.04" x2="161.40" y2="824.88" stroke="#333" stroke-width="0.90"/>
<line x1="139.10" y1="834.12" x2="161.40" y2="826.56" stroke="#333" stroke-width="0.90"/>
<circle cx="139.10" cy="811.44" r="2.45" fill="#dcdcdc" stroke="#2a2a2a" stroke-width="0.95"/>
<circle cx="139.10" cy="813.12" r="2.45" fill="#dcdcdc" stroke="#2a2a2a" stroke-width="0.95"/>
<circle cx="139.10" cy="813.12" r="2.45" fill="#dcdcdc" stroke="#2a2a2a" stroke-width="0.95"/>
<circle cx="139.10" cy="824.04" r="2.45" fill="#dcdcdc" stroke="#2a2a2a" stroke-width="0.95"/>
<circle cx="139.10" cy="834.12" r="2.45" fill="#dcdcdc" stroke="#2a2a2a" stroke-width="0.95"/>
<circle cx="161.40" cy="756.84" r="2.45" fill="#dcdcdc" stroke="#2a2a2a" stroke-width="0.95"/>
<circle cx="161.40" cy="789.60" r="2.45" fill="#dcdcdc" stroke="#2a2a2a" stroke-width="0.95"/>
<circle cx="161.40" cy="808.08" r="2.45" fill="#dcdcdc" stroke="#2a2a2a" stroke-width="0.95"/>
<circle cx="161.40" cy="824.88" r="2.45" fill="#dcdcdc" stroke="#2a2a2a" stroke-width="0.95"/>
<circle cx="161.40" cy="826.56" r="2.45" fill="#dcdcdc" stroke="#2a2a2a" stroke-width="0.95"/>
<rect x="183.90" y="838.52" width="14.60" height="5.68" fill="#92c0f8" stroke="#3a4a66" stroke-width="0.90"/>
<rect x="206.50" y="836.04" width="14.60" height="8.16" fill="#b3f4da" stroke="#5f7d70" stroke-width="0.90"/>
<line x1="191.20" y1="836.04" x2="213.80" y2="826.56" stroke="#333" stroke-width="0.90"/>
<line x1="191.20" y1="838.22" x2="213.80" y2="838.22" stroke="#333" stroke-width="0.90"/>
<line x1="191.20" y1="838.22" x2="213.80" y2="836.04" stroke="#333" stroke-width="0.90"/>
<line x1="191.20" y1="841.41" x2="213.80" y2="838.22" stroke="#333" stroke-width="0.90"/>
<circle cx="191.20" cy="836.04" r="2.45" fill="#dcdcdc" stroke="#2a2a2a" stroke-width="0.95"/>
<circle cx="191.20" cy="838.22" r="2.45" fill="#dcdcdc" stroke="#2a2a2a" stroke-width="0.95"/>
<circle cx="191.20" cy="838.22" r="2.45" fill="#dcdcdc" stroke="#2a2a2a" stroke-width="0.95"/>
<circle cx="191.20" cy="841.41" r="2.45" fill="#dcdcdc" stroke="#2a2a2a" stroke-width="0.95"/>
<circle cx="213.80" cy="826.56" r="2.45" fill="#dcdcdc" stroke="#2a2a2a" stroke-width="0.95"/>
<circle cx="213.80" cy="838.22" r="2.45" fill="#dcdcdc" stroke="#2a2a2a" stroke-width="0.95"/>
<circle cx="213.80" cy="836.04" r="2.45" fill="#dcdcdc" stroke="#2a2a2a" stroke-width="0.95"/>
<circle cx="213.80" cy="838.22" r="2.45" fill="#dcdcdc" stroke="#2a2a2a" stroke-width="0.95"/>
<rect x="236.10" y="817.99" width="14.60" height="26.21" fill="#92c0f8" stroke="#3a4a66" stroke-width="0.90"/>
<rect x="258.40" y="805.22" width="14.60" height="38.98" fill="#b3f4da" stroke="#5f7d70" stroke-width="0.90"/>
<line x1="243.40" y1="807.91" x2="265.70" y2="756.84" stroke="#333" stroke-width="0.90"/>
<line x1="243.40" y1="815.64" x2="265.70" y2="797.83" stroke="#333" stroke-width="0.90"/>
<line x1="243.40" y1="817.99" x2="265.70" y2="819.00" stroke="#333" stroke-width="0.90"/>
<line x1="243.40" y1="817.99" x2="265.70" y2="826.06" stroke="#333" stroke-width="0.90"/>
<line x1="243.40" y1="832.44" x2="265.70" y2="822.36" stroke="#333" stroke-width="0.90"/>
<circle cx="243.40" cy="807.91" r="2.45" fill="#dcdcdc" stroke="#2a2a2a" stroke-width="0.95"/>
<circle cx="243.40" cy="815.64" r="2.45" fill="#dcdcdc" stroke="#2a2a2a" stroke-width="0.95"/>
<circle cx="243.40" cy="817.99" r="2.45" fill="#dcdcdc" stroke="#2a2a2a" stroke-width="0.95"/>
<circle cx="243.40" cy="817.99" r="2.45" fill="#dcdcdc" stroke="#2a2a2a" stroke-width="0.95"/>
<circle cx="243.40" cy="832.44" r="2.45" fill="#dcdcdc" stroke="#2a2a2a" stroke-width="0.95"/>
<circle cx="265.70" cy="756.84" r="2.45" fill="#dcdcdc" stroke="#2a2a2a" stroke-width="0.95"/>
<circle cx="265.70" cy="797.83" r="2.45" fill="#dcdcdc" stroke="#2a2a2a" stroke-width="0.95"/>
<circle cx="265.70" cy="819.00" r="2.45" fill="#dcdcdc" stroke="#2a2a2a" stroke-width="0.95"/>
<circle cx="265.70" cy="826.06" r="2.45" fill="#dcdcdc" stroke="#2a2a2a" stroke-width="0.95"/>
<circle cx="265.70" cy="822.36" r="2.45" fill="#dcdcdc" stroke="#2a2a2a" stroke-width="0.95"/>
<text x="149.55" y="735.63" font-size="9.40" font-weight="normal" text-anchor="middle" fill="#1a1a1a" stroke="#1a1a1a" stroke-width="0.12">p = 0.07</text>
<line x1="132.20" y1="741.80" x2="166.90" y2="741.80" stroke="#222" stroke-width="1.00"/>
<text x="41.80" y="793.00" font-size="10.10" font-weight="bold" text-anchor="middle" fill="#111" stroke="#111" stroke-width="0.30" transform="rotate(-90 41.80 793.00)" dominant-baseline="central">% Positive</text>
<text x="323.50" y="793.00" font-size="10.10" font-weight="bold" text-anchor="middle" fill="#111" stroke="#111" stroke-width="0.30" transform="rotate(90 323.50 793.00)" dominant-baseline="central">MFI</text>
<rect x="418.00" y="684.20" width="223.00" height="19.10" fill="#f2f2f2" stroke="none" stroke-width="1.00"/>
<rect x="425.20" y="703.30" width="47.40" height="18.10" fill="#fff" stroke="#a8a8a8" stroke-width="1.00"/>
<text x="448.90" y="715.22" font-size="9.50" font-weight="bold" text-anchor="middle" fill="#111" stroke="#111" stroke-width="0.30">CD4+ T</text>
<rect x="478.30" y="703.30" width="47.90" height="18.10" fill="#fff" stroke="#a8a8a8" stroke-width="1.00"/>
<text x="502.25" y="715.22" font-size="9.50" font-weight="bold" text-anchor="middle" fill="#111" stroke="#111" stroke-width="0.30">CD8+ T</text>
<rect x="531.50" y="703.30" width="47.80" height="18.10" fill="#fff" stroke="#a8a8a8" stroke-width="1.00"/>
<text x="555.40" y="715.22" font-size="9.50" font-weight="bold" text-anchor="middle" fill="#111" stroke="#111" stroke-width="0.30">CD4+ T</text>
<rect x="585.00" y="703.30" width="47.90" height="18.10" fill="#fff" stroke="#a8a8a8" stroke-width="1.00"/>
<text x="608.95" y="715.22" font-size="9.50" font-weight="bold" text-anchor="middle" fill="#111" stroke="#111" stroke-width="0.30">CD8+ T</text>
<rect x="505.80" y="684.20" width="48.90" height="20.30" fill="#f4f4f4" stroke="none" stroke-width="1.00"/>
<text x="474.00" y="697.74" font-size="10.30" font-weight="bold" text-anchor="middle" fill="#111" stroke="#111" stroke-width="0.30">% positive</text>
<text x="530.40" y="697.74" font-size="10.30" font-weight="bold" text-anchor="middle" fill="#111" stroke="#111" stroke-width="0.30">Perforin</text>
<text x="585.00" y="697.64" font-size="10.00" font-weight="bold" text-anchor="middle" fill="#111" stroke="#111" stroke-width="0.30">MFI</text>
<line x1="416.10" y1="734.60" x2="416.10" y2="844.40" stroke="#1a1a1a" stroke-width="1.40"/>
<line x1="412.10" y1="843.70" x2="416.10" y2="843.70" stroke="#1a1a1a" stroke-width="1.40"/>
<text x="410.80" y="846.69" font-size="8.70" font-weight="bold" text-anchor="end" fill="#111" stroke="#111" stroke-width="0.30">0</text>
<line x1="412.10" y1="816.60" x2="416.10" y2="816.60" stroke="#1a1a1a" stroke-width="1.40"/>
<text x="410.80" y="819.59" font-size="8.70" font-weight="bold" text-anchor="end" fill="#111" stroke="#111" stroke-width="0.30">10</text>
<line x1="412.10" y1="789.50" x2="416.10" y2="789.50" stroke="#1a1a1a" stroke-width="1.40"/>
<text x="410.80" y="792.49" font-size="8.70" font-weight="bold" text-anchor="end" fill="#111" stroke="#111" stroke-width="0.30">20</text>
<line x1="412.10" y1="762.40" x2="416.10" y2="762.40" stroke="#1a1a1a" stroke-width="1.40"/>
<text x="410.80" y="765.39" font-size="8.70" font-weight="bold" text-anchor="end" fill="#111" stroke="#111" stroke-width="0.30">30</text>
<line x1="412.10" y1="735.30" x2="416.10" y2="735.30" stroke="#1a1a1a" stroke-width="1.40"/>
<text x="410.80" y="738.29" font-size="8.70" font-weight="bold" text-anchor="end" fill="#111" stroke="#111" stroke-width="0.30">40</text>
<line x1="644.00" y1="734.60" x2="644.00" y2="844.40" stroke="#1a1a1a" stroke-width="1.40"/>
<line x1="644.00" y1="843.70" x2="648.00" y2="843.70" stroke="#1a1a1a" stroke-width="1.40"/>
<text x="649.70" y="846.69" font-size="8.70" font-weight="bold" text-anchor="start" fill="#111" stroke="#111" stroke-width="0.30">0</text>
<line x1="644.00" y1="822.02" x2="648.00" y2="822.02" stroke="#1a1a1a" stroke-width="1.40"/>
<text x="649.70" y="825.01" font-size="8.70" font-weight="bold" text-anchor="start" fill="#111" stroke="#111" stroke-width="0.30">500</text>
<line x1="644.00" y1="800.34" x2="648.00" y2="800.34" stroke="#1a1a1a" stroke-width="1.40"/>
<text x="649.70" y="803.33" font-size="8.70" font-weight="bold" text-anchor="start" fill="#111" stroke="#111" stroke-width="0.30">1000</text>
<line x1="644.00" y1="778.66" x2="648.00" y2="778.66" stroke="#1a1a1a" stroke-width="1.40"/>
<text x="649.70" y="781.65" font-size="8.70" font-weight="bold" text-anchor="start" fill="#111" stroke="#111" stroke-width="0.30">1500</text>
<line x1="644.00" y1="756.98" x2="648.00" y2="756.98" stroke="#1a1a1a" stroke-width="1.40"/>
<text x="649.70" y="759.97" font-size="8.70" font-weight="bold" text-anchor="start" fill="#111" stroke="#111" stroke-width="0.30">2000</text>
<line x1="644.00" y1="735.30" x2="648.00" y2="735.30" stroke="#1a1a1a" stroke-width="1.40"/>
<text x="649.70" y="738.29" font-size="8.70" font-weight="bold" text-anchor="start" fill="#111" stroke="#111" stroke-width="0.30">2500</text>
<line x1="425.80" y1="852.90" x2="633.00" y2="852.90" stroke="#1a1a1a" stroke-width="1.40"/>
<line x1="529.00" y1="735.30" x2="529.00" y2="852.90" stroke="#8c8c8c" stroke-width="0.75" stroke-dasharray="1.5 1.1"/>
<line x1="440.20" y1="852.90" x2="440.20" y2="856.90" stroke="#1a1a1a" stroke-width="1.40"/>
<text x="444.40" y="859.00" font-size="8.90" font-weight="bold" text-anchor="end" fill="#111" stroke="#111" stroke-width="0.30" transform="rotate(-90 444.40 859.00)">pre-dose</text>
<line x1="462.10" y1="852.90" x2="462.10" y2="856.90" stroke="#1a1a1a" stroke-width="1.40"/>
<text x="466.30" y="859.00" font-size="8.90" font-weight="bold" text-anchor="end" fill="#111" stroke="#111" stroke-width="0.30" transform="rotate(-90 466.30 859.00)">24h post</text>
<line x1="492.10" y1="852.90" x2="492.10" y2="856.90" stroke="#1a1a1a" stroke-width="1.40"/>
<text x="496.30" y="859.00" font-size="8.90" font-weight="bold" text-anchor="end" fill="#111" stroke="#111" stroke-width="0.30" transform="rotate(-90 496.30 859.00)">pre-dose</text>
<line x1="514.70" y1="852.90" x2="514.70" y2="856.90" stroke="#1a1a1a" stroke-width="1.40"/>
<text x="518.90" y="859.00" font-size="8.90" font-weight="bold" text-anchor="end" fill="#111" stroke="#111" stroke-width="0.30" transform="rotate(-90 518.90 859.00)">24h post</text>
<line x1="544.60" y1="852.90" x2="544.60" y2="856.90" stroke="#1a1a1a" stroke-width="1.40"/>
<text x="548.80" y="859.00" font-size="8.90" font-weight="bold" text-anchor="end" fill="#111" stroke="#111" stroke-width="0.30" transform="rotate(-90 548.80 859.00)">pre-dose</text>
<line x1="567.00" y1="852.90" x2="567.00" y2="856.90" stroke="#1a1a1a" stroke-width="1.40"/>
<text x="571.20" y="859.00" font-size="8.90" font-weight="bold" text-anchor="end" fill="#111" stroke="#111" stroke-width="0.30" transform="rotate(-90 571.20 859.00)">24h post</text>
<line x1="596.60" y1="852.90" x2="596.60" y2="856.90" stroke="#1a1a1a" stroke-width="1.40"/>
<text x="600.80" y="859.00" font-size="8.90" font-weight="bold" text-anchor="end" fill="#111" stroke="#111" stroke-width="0.30" transform="rotate(-90 600.80 859.00)">pre-dose</text>
<line x1="618.70" y1="852.90" x2="618.70" y2="856.90" stroke="#1a1a1a" stroke-width="1.40"/>
<text x="622.90" y="859.00" font-size="8.90" font-weight="bold" text-anchor="end" fill="#111" stroke="#111" stroke-width="0.30" transform="rotate(-90 622.90 859.00)">24h post</text>
<rect x="432.90" y="842.62" width="14.60" height="1.08" fill="#92c0f8" stroke="#3a4a66" stroke-width="0.90"/>
<rect x="454.80" y="840.18" width="14.60" height="3.52" fill="#b3f4da" stroke="#5f7d70" stroke-width="0.90"/>
<line x1="440.20" y1="840.45" x2="462.10" y2="833.40" stroke="#333" stroke-width="0.90"/>
<line x1="440.20" y1="842.35" x2="462.10" y2="840.45" stroke="#333" stroke-width="0.90"/>
<line x1="440.20" y1="843.43" x2="462.10" y2="843.16" stroke="#333" stroke-width="0.90"/>
<circle cx="440.20" cy="840.45" r="2.45" fill="#dcdcdc" stroke="#2a2a2a" stroke-width="0.95"/>
<circle cx="440.20" cy="842.35" r="2.45" fill="#dcdcdc" stroke="#2a2a2a" stroke-width="0.95"/>
<circle cx="440.20" cy="843.43" r="2.45" fill="#dcdcdc" stroke="#2a2a2a" stroke-width="0.95"/>
<circle cx="462.10" cy="833.40" r="2.45" fill="#dcdcdc" stroke="#2a2a2a" stroke-width="0.95"/>
<circle cx="462.10" cy="840.45" r="2.45" fill="#dcdcdc" stroke="#2a2a2a" stroke-width="0.95"/>
<circle cx="462.10" cy="843.16" r="2.45" fill="#dcdcdc" stroke="#2a2a2a" stroke-width="0.95"/>
<rect x="484.80" y="820.39" width="14.60" height="23.31" fill="#92c0f8" stroke="#3a4a66" stroke-width="0.90"/>
<rect x="507.40" y="798.17" width="14.60" height="45.53" fill="#b3f4da" stroke="#5f7d70" stroke-width="0.90"/>
<line x1="492.10" y1="804.40" x2="514.70" y2="777.85" stroke="#333" stroke-width="0.90"/>
<line x1="492.10" y1="815.25" x2="514.70" y2="758.06" stroke="#333" stroke-width="0.90"/>
<line x1="492.10" y1="817.96" x2="514.70" y2="794.92" stroke="#333" stroke-width="0.90"/>
<line x1="492.10" y1="824.73" x2="514.70" y2="824.73" stroke="#333" stroke-width="0.90"/>
<line x1="492.10" y1="838.82" x2="514.70" y2="836.11" stroke="#333" stroke-width="0.90"/>
<circle cx="492.10" cy="804.40" r="2.45" fill="#dcdcdc" stroke="#2a2a2a" stroke-width="0.95"/>
<circle cx="492.10" cy="815.25" r="2.45" fill="#dcdcdc" stroke="#2a2a2a" stroke-width="0.95"/>
<circle cx="492.10" cy="817.96" r="2.45" fill="#dcdcdc" stroke="#2a2a2a" stroke-width="0.95"/>
<circle cx="492.10" cy="824.73" r="2.45" fill="#dcdcdc" stroke="#2a2a2a" stroke-width="0.95"/>
<circle cx="492.10" cy="838.82" r="2.45" fill="#dcdcdc" stroke="#2a2a2a" stroke-width="0.95"/>
<circle cx="514.70" cy="777.85" r="2.45" fill="#dcdcdc" stroke="#2a2a2a" stroke-width="0.95"/>
<circle cx="514.70" cy="758.06" r="2.45" fill="#dcdcdc" stroke="#2a2a2a" stroke-width="0.95"/>
<circle cx="514.70" cy="794.92" r="2.45" fill="#dcdcdc" stroke="#2a2a2a" stroke-width="0.95"/>
<circle cx="514.70" cy="824.73" r="2.45" fill="#dcdcdc" stroke="#2a2a2a" stroke-width="0.95"/>
<circle cx="514.70" cy="836.11" r="2.45" fill="#dcdcdc" stroke="#2a2a2a" stroke-width="0.95"/>
<rect x="537.30" y="831.99" width="14.60" height="11.71" fill="#92c0f8" stroke="#3a4a66" stroke-width="0.90"/>
<rect x="559.70" y="826.53" width="14.60" height="17.17" fill="#b3f4da" stroke="#5f7d70" stroke-width="0.90"/>
<line x1="544.60" y1="826.53" x2="567.00" y2="826.23" stroke="#333" stroke-width="0.90"/>
<line x1="544.60" y1="827.31" x2="567.00" y2="826.23" stroke="#333" stroke-width="0.90"/>
<line x1="544.60" y1="832.73" x2="567.00" y2="820.33" stroke="#333" stroke-width="0.90"/>
<line x1="544.60" y1="832.73" x2="567.00" y2="831.99" stroke="#333" stroke-width="0.90"/>
<line x1="544.60" y1="839.71" x2="567.00" y2="826.23" stroke="#333" stroke-width="0.90"/>
<circle cx="544.60" cy="826.53" r="2.45" fill="#dcdcdc" stroke="#2a2a2a" stroke-width="0.95"/>
<circle cx="544.60" cy="827.31" r="2.45" fill="#dcdcdc" stroke="#2a2a2a" stroke-width="0.95"/>
<circle cx="544.60" cy="832.73" r="2.45" fill="#dcdcdc" stroke="#2a2a2a" stroke-width="0.95"/>
<circle cx="544.60" cy="832.73" r="2.45" fill="#dcdcdc" stroke="#2a2a2a" stroke-width="0.95"/>
<circle cx="544.60" cy="839.71" r="2.45" fill="#dcdcdc" stroke="#2a2a2a" stroke-width="0.95"/>
<circle cx="567.00" cy="826.23" r="2.45" fill="#dcdcdc" stroke="#2a2a2a" stroke-width="0.95"/>
<circle cx="567.00" cy="826.23" r="2.45" fill="#dcdcdc" stroke="#2a2a2a" stroke-width="0.95"/>
<circle cx="567.00" cy="820.33" r="2.45" fill="#dcdcdc" stroke="#2a2a2a" stroke-width="0.95"/>
<circle cx="567.00" cy="831.99" r="2.45" fill="#dcdcdc" stroke="#2a2a2a" stroke-width="0.95"/>
<circle cx="567.00" cy="826.23" r="2.45" fill="#dcdcdc" stroke="#2a2a2a" stroke-width="0.95"/>
<rect x="589.30" y="816.38" width="14.60" height="27.32" fill="#92c0f8" stroke="#3a4a66" stroke-width="0.90"/>
<rect x="611.40" y="796.87" width="14.60" height="46.83" fill="#b3f4da" stroke="#5f7d70" stroke-width="0.90"/>
<line x1="596.60" y1="796.00" x2="618.70" y2="772.16" stroke="#333" stroke-width="0.90"/>
<line x1="596.60" y1="815.52" x2="618.70" y2="760.02" stroke="#333" stroke-width="0.90"/>
<line x1="596.60" y1="818.98" x2="618.70" y2="801.21" stroke="#333" stroke-width="0.90"/>
<line x1="596.60" y1="818.98" x2="618.70" y2="818.98" stroke="#333" stroke-width="0.90"/>
<line x1="596.60" y1="832.86" x2="618.70" y2="830.69" stroke="#333" stroke-width="0.90"/>
<circle cx="596.60" cy="796.00" r="2.45" fill="#dcdcdc" stroke="#2a2a2a" stroke-width="0.95"/>
<circle cx="596.60" cy="815.52" r="2.45" fill="#dcdcdc" stroke="#2a2a2a" stroke-width="0.95"/>
<circle cx="596.60" cy="818.98" r="2.45" fill="#dcdcdc" stroke="#2a2a2a" stroke-width="0.95"/>
<circle cx="596.60" cy="818.98" r="2.45" fill="#dcdcdc" stroke="#2a2a2a" stroke-width="0.95"/>
<circle cx="596.60" cy="832.86" r="2.45" fill="#dcdcdc" stroke="#2a2a2a" stroke-width="0.95"/>
<circle cx="618.70" cy="772.16" r="2.45" fill="#dcdcdc" stroke="#2a2a2a" stroke-width="0.95"/>
<circle cx="618.70" cy="760.02" r="2.45" fill="#dcdcdc" stroke="#2a2a2a" stroke-width="0.95"/>
<circle cx="618.70" cy="801.21" r="2.45" fill="#dcdcdc" stroke="#2a2a2a" stroke-width="0.95"/>
<circle cx="618.70" cy="818.98" r="2.45" fill="#dcdcdc" stroke="#2a2a2a" stroke-width="0.95"/>
<circle cx="618.70" cy="830.69" r="2.45" fill="#dcdcdc" stroke="#2a2a2a" stroke-width="0.95"/>
<text x="503.20" y="735.93" font-size="9.40" font-weight="normal" text-anchor="middle" fill="#1a1a1a" stroke="#1a1a1a" stroke-width="0.12">p = 0.04</text>
<line x1="485.80" y1="742.00" x2="520.60" y2="742.00" stroke="#222" stroke-width="1.00"/>
<text x="608.75" y="735.23" font-size="9.40" font-weight="normal" text-anchor="middle" fill="#1a1a1a" stroke="#1a1a1a" stroke-width="0.12">p = 0.08</text>
<line x1="591.00" y1="742.20" x2="626.50" y2="742.20" stroke="#222" stroke-width="1.00"/>
<text x="392.70" y="790.00" font-size="10.10" font-weight="bold" text-anchor="middle" fill="#111" stroke="#111" stroke-width="0.30" transform="rotate(-90 392.70 790.00)" dominant-baseline="central">% Positive</text>
<text x="678.00" y="790.00" font-size="10.10" font-weight="bold" text-anchor="middle" fill="#111" stroke="#111" stroke-width="0.30" transform="rotate(90 678.00 790.00)" dominant-baseline="central">MFI</text>
</svg></body></html>
